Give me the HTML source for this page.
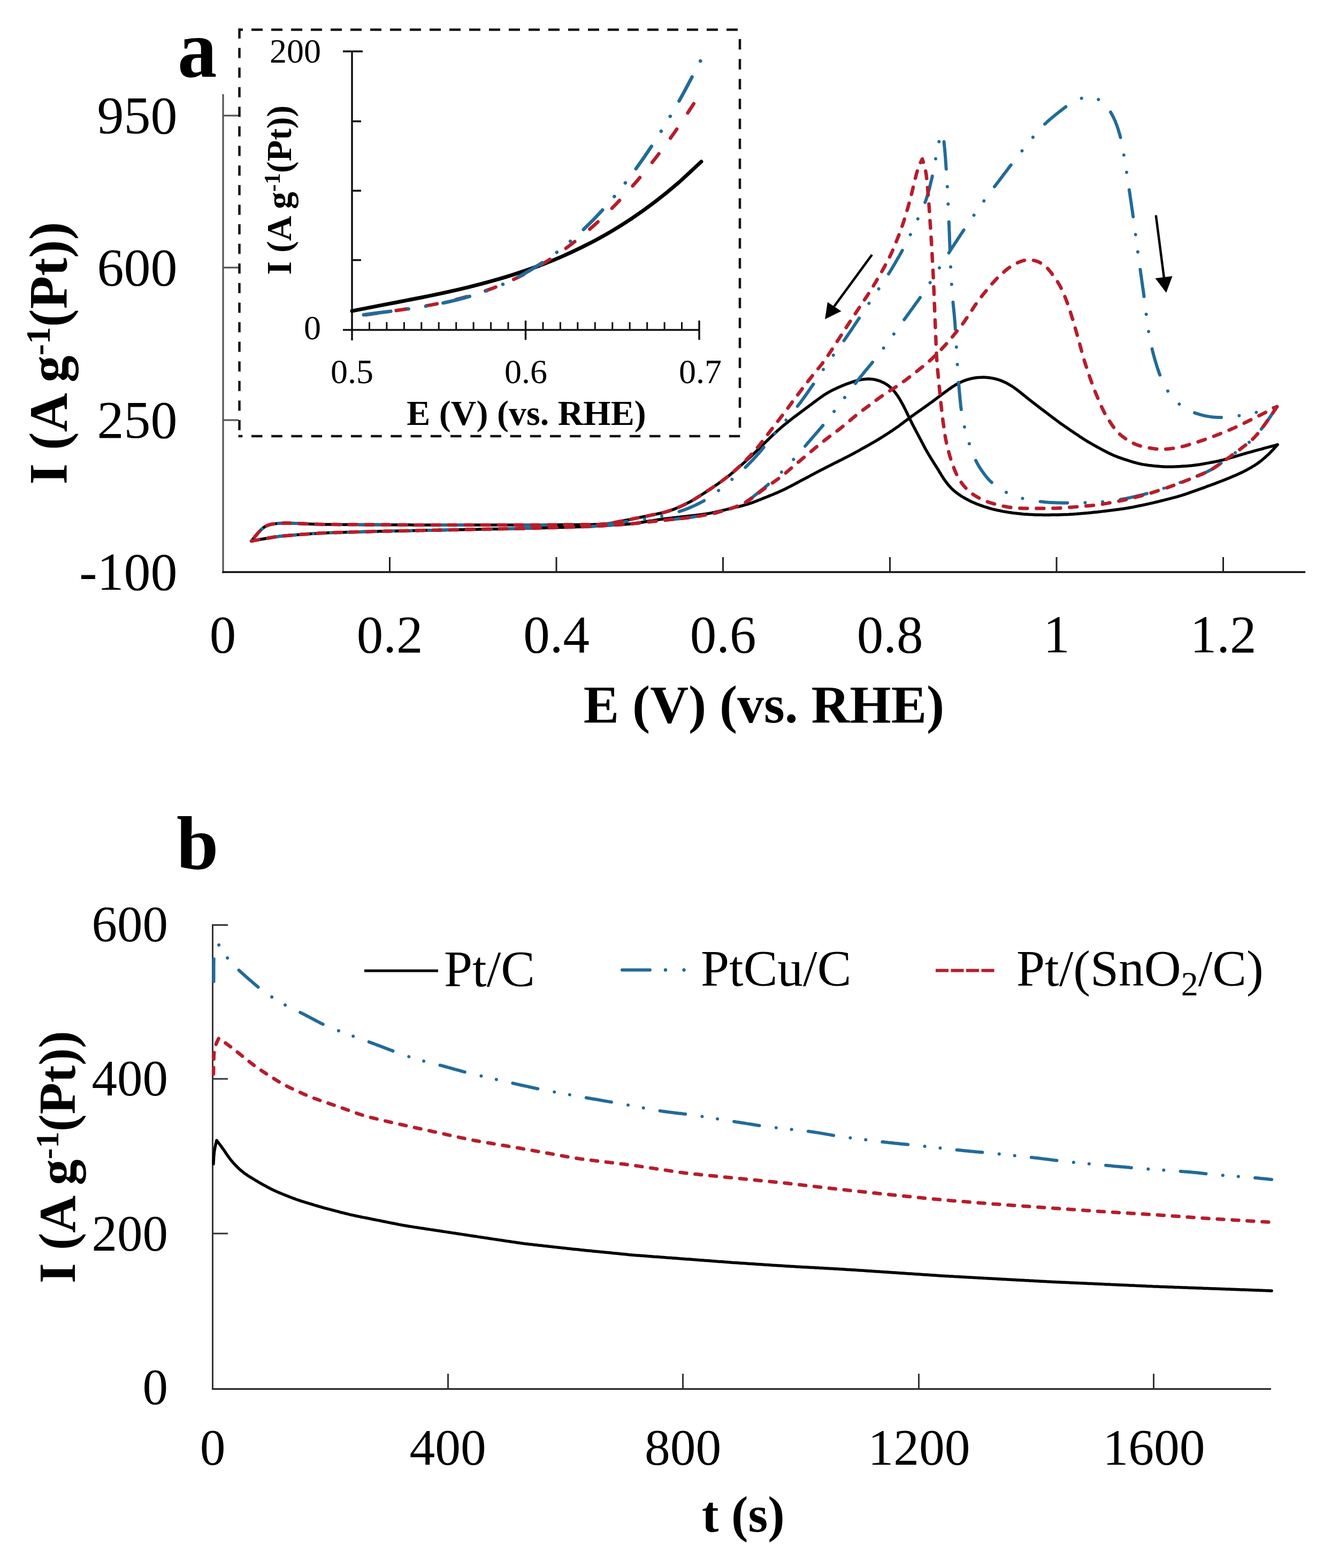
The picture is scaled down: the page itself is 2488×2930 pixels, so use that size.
<!DOCTYPE html><html><head><meta charset="utf-8"><title>Figure</title><style>html,body{margin:0;padding:0;background:#fff;}svg{display:block;}text{font-family:"Liberation Serif","Times New Roman",serif;fill:#000;}</style></head><body>
<svg width="2488" height="2930" viewBox="0 0 2488 2930">
<rect width="2488" height="2930" fill="#fff"/>
<text transform="translate(332 143) scale(1 1.055)" font-weight="bold" font-size="147">a</text>
<line x1="417" y1="176" x2="417" y2="1071" stroke="#555" stroke-width="3.2"/>
<line x1="415.5" y1="1069" x2="2440" y2="1069" stroke="#111" stroke-width="3.6"/>
<line x1="417" y1="216" x2="446" y2="216" stroke="#555" stroke-width="3.2"/>
<line x1="417" y1="500" x2="446" y2="500" stroke="#555" stroke-width="3.2"/>
<line x1="417" y1="785" x2="446" y2="785" stroke="#555" stroke-width="3.2"/>
<line x1="728.5" y1="1069" x2="728.5" y2="1041" stroke="#222" stroke-width="3"/>
<line x1="1040" y1="1069" x2="1040" y2="1041" stroke="#222" stroke-width="3"/>
<line x1="1351.5" y1="1069" x2="1351.5" y2="1041" stroke="#222" stroke-width="3"/>
<line x1="1663.5" y1="1069" x2="1663.5" y2="1041" stroke="#222" stroke-width="3"/>
<line x1="1975" y1="1069" x2="1975" y2="1041" stroke="#222" stroke-width="3"/>
<line x1="2286.5" y1="1069" x2="2286.5" y2="1041" stroke="#222" stroke-width="3"/>
<text x="331.5" y="249" font-size="100" text-anchor="end">950</text>
<text x="331.5" y="533" font-size="100" text-anchor="end">600</text>
<text x="331.5" y="818" font-size="100" text-anchor="end">250</text>
<text x="331.5" y="1102" font-size="100" text-anchor="end">-100</text>
<text x="416.5" y="1219" font-size="99" text-anchor="middle">0</text>
<text x="728.5" y="1219" font-size="99" text-anchor="middle">0.2</text>
<text x="1040" y="1219" font-size="99" text-anchor="middle">0.4</text>
<text x="1351.5" y="1219" font-size="99" text-anchor="middle">0.6</text>
<text x="1663.5" y="1219" font-size="99" text-anchor="middle">0.8</text>
<text x="1975" y="1219" font-size="99" text-anchor="middle">1</text>
<text x="2286.5" y="1219" font-size="99" text-anchor="middle">1.2</text>
<text x="1428" y="1350" font-size="99.5" font-weight="bold" text-anchor="middle">E (V) (vs. RHE)</text>
<text transform="translate(125 905.5) rotate(-90)" font-size="101" font-weight="bold">I (A g<tspan font-size="64" dy="-32">-1</tspan><tspan dy="32">(Pt))</tspan></text>
<g fill="none" stroke="#111" stroke-width="4.5">
<line x1="447.5" y1="55.5" x2="1385" y2="55.5" stroke-dasharray="21 16" stroke-dashoffset="-22.5"/>
<line x1="1383" y1="55.5" x2="1383" y2="815" stroke-dasharray="19.5 17.7" stroke-dashoffset="-17.5"/>
<line x1="1383.3" y1="815" x2="445.5" y2="815" stroke-dasharray="20.5 16.7"/>
<line x1="447.5" y1="53" x2="447.5" y2="817" stroke-dasharray="19 17.6"/>
</g>
<line x1="658" y1="95" x2="658" y2="636" stroke="#111" stroke-width="3.5"/>
<line x1="641" y1="96" x2="678" y2="96" stroke="#111" stroke-width="3.5"/>
<line x1="658" y1="226.7" x2="675" y2="226.7" stroke="#111" stroke-width="3.5"/>
<line x1="658" y1="356.4" x2="675" y2="356.4" stroke="#111" stroke-width="3.5"/>
<line x1="658" y1="486" x2="675" y2="486" stroke="#111" stroke-width="3.5"/>
<line x1="641" y1="616.5" x2="1308" y2="616.5" stroke="#111" stroke-width="3.5"/>
<line x1="690.5" y1="602" x2="690.5" y2="616.5" stroke="#111" stroke-width="3"/>
<line x1="722.9" y1="602" x2="722.9" y2="616.5" stroke="#111" stroke-width="3"/>
<line x1="755.4" y1="602" x2="755.4" y2="616.5" stroke="#111" stroke-width="3"/>
<line x1="787.8" y1="602" x2="787.8" y2="616.5" stroke="#111" stroke-width="3"/>
<line x1="820.2" y1="602" x2="820.2" y2="616.5" stroke="#111" stroke-width="3"/>
<line x1="852.7" y1="602" x2="852.7" y2="616.5" stroke="#111" stroke-width="3"/>
<line x1="885.1" y1="602" x2="885.1" y2="616.5" stroke="#111" stroke-width="3"/>
<line x1="917.6" y1="602" x2="917.6" y2="616.5" stroke="#111" stroke-width="3"/>
<line x1="950" y1="602" x2="950" y2="616.5" stroke="#111" stroke-width="3"/>
<line x1="982.5" y1="599" x2="982.5" y2="635" stroke="#111" stroke-width="3.5"/>
<line x1="1015" y1="602" x2="1015" y2="616.5" stroke="#111" stroke-width="3"/>
<line x1="1047.4" y1="602" x2="1047.4" y2="616.5" stroke="#111" stroke-width="3"/>
<line x1="1079.8" y1="602" x2="1079.8" y2="616.5" stroke="#111" stroke-width="3"/>
<line x1="1112.3" y1="602" x2="1112.3" y2="616.5" stroke="#111" stroke-width="3"/>
<line x1="1144.8" y1="602" x2="1144.8" y2="616.5" stroke="#111" stroke-width="3"/>
<line x1="1177.2" y1="602" x2="1177.2" y2="616.5" stroke="#111" stroke-width="3"/>
<line x1="1209.7" y1="602" x2="1209.7" y2="616.5" stroke="#111" stroke-width="3"/>
<line x1="1242.1" y1="602" x2="1242.1" y2="616.5" stroke="#111" stroke-width="3"/>
<line x1="1274.5" y1="602" x2="1274.5" y2="616.5" stroke="#111" stroke-width="3"/>
<line x1="1307" y1="599" x2="1307" y2="635" stroke="#111" stroke-width="3.5"/>
<text x="600" y="117" font-size="64" text-anchor="end">200</text>
<text x="600" y="634" font-size="64" text-anchor="end">0</text>
<text x="658" y="716" font-size="64" text-anchor="middle">0.5</text>
<text x="983" y="716" font-size="64" text-anchor="middle">0.6</text>
<text x="1309" y="716" font-size="64" text-anchor="middle">0.7</text>
<text x="984" y="794" font-size="66" font-weight="bold" text-anchor="middle">E (V) (vs. RHE)</text>
<text transform="translate(544 513.5) rotate(-90)" font-size="65" font-weight="bold">I (A g<tspan font-size="42" dy="-21">-1</tspan><tspan dy="21">(Pt))</tspan></text>
<path d="M658 581.1 C672.5 578.3 687 575.4 701.5 572.6 C716 569.8 730.6 567 745.1 564.2 C759.6 561.4 774.1 558.6 788.6 555.7 C803.1 552.8 817.6 549.8 832.1 546.6 C846.7 543.4 861.2 540.1 875.7 536.6 C890.2 533 904.7 529.3 919.2 525.2 C933.7 521.2 948.3 516.9 962.7 512.2 C977.3 507.5 991.8 502.5 1006.3 497.1 C1020.8 491.7 1035.4 485.9 1049.8 479.6 C1064.4 473.2 1078.9 466.5 1093.3 459.2 C1108 451.9 1122.5 444 1136.9 435.7 C1151.5 427.2 1166 418.1 1180.4 408.6 C1195.1 398.8 1209.6 388.4 1223.9 377.5 C1238.6 366.3 1253.1 354.5 1267.5 342.1 C1282.2 329.3 1296.5 315.3 1311 302" fill="none" stroke="#000" stroke-width="7" stroke-linejoin="round" stroke-linecap="round"/>
<path d="M658 592.3 C672.3 590.2 686.7 588 701 585.9 C715.3 583.8 729.7 581.9 744 579.8 C758.3 577.7 772.7 575.6 787 573.1 C801.4 570.7 815.7 568 830 564.9 C844.4 561.7 858.7 558.3 873 554.2 C887.4 550.1 901.8 545.6 916 540.4 C930.4 535.1 944.8 529.2 959 522.7 C973.5 515.9 987.8 508.6 1002 500.4 C1016.5 492.1 1030.9 483 1045 473.2 C1059.6 463.1 1073.9 452.1 1088 440.4 C1102.6 428.4 1116.9 415.5 1131 401.9 C1145.6 387.8 1159.9 372.8 1174 357.2 C1188.6 340.9 1202.9 323.8 1217 306.1 C1231.6 287.7 1245.9 268.5 1260 248.6 C1274.6 228 1288.7 205.9 1303 184.5" fill="none" stroke="#b71d2b" stroke-width="6.5" stroke-linejoin="round" stroke-linecap="round" stroke-dasharray="20.5 36.5" stroke-dashoffset="30.5"/>
<path d="M658 591.2 C672.5 589.2 687.1 587.2 701.6 585.2 C716.1 583.3 730.7 581.7 745.2 579.7 C759.7 577.7 774.3 575.8 788.8 573.4 C803.4 571 817.9 568.5 832.4 565.3 C847 562.2 861.6 558.7 876 554.4 C890.6 550.1 905.2 545.3 919.6 539.7 C934.3 534 948.8 527.6 963.2 520.3 C977.9 512.8 992.5 504.5 1006.8 495.3 C1021.6 485.8 1036.1 475.4 1050.4 464 C1065.2 452.2 1079.8 439.4 1094 425.7 C1108.9 411.4 1123.4 396.1 1137.6 379.8 C1152.5 362.8 1167 344.6 1181.2 325.6 C1196.1 305.7 1210.6 284.6 1224.8 262.7 C1239.7 239.7 1254.2 215.5 1268.4 190.5 C1283.3 164.3 1297.5 136.1 1312 108.8" fill="none" stroke="#216b99" stroke-width="6.5" stroke-linejoin="round" stroke-linecap="round" stroke-dasharray="51 33.5 0.1 32.5 0.1 33" stroke-dashoffset="-22"/>
<path d="M470 1011 473 1010.5 475.9 1009.9 478.9 1009.4 481.8 1008.9 484.8 1008.3 487.7 1007.8 490.7 1007.3 493.7 1006.7 496.6 1006.2 499.6 1005.7 502.5 1005.2 505.5 1004.7 508.5 1004.2 511.4 1003.7 514.4 1003.3 517.4 1002.8 520.3 1002.5 523.3 1002.1 526.3 1001.8 529.3 1001.5 532.3 1001.2 535.3 1000.9 538.2 1000.7 541.2 1000.4 544.2 1000.2 547.2 1000 550.2 999.7 553.2 999.5 556.2 999.3 559.2 999.1 562.2 998.8 565.2 998.6 568.2 998.4 571.2 998.2 574.2 997.9 577.2 997.7 580.2 997.5 583.2 997.3 586.2 997.1 589.2 996.9 592.2 996.7 595.2 996.5 598.2 996.3 601.2 996.2 604.2 996 607.2 995.9 610.2 995.8 613.2 995.6 616.2 995.5 619.2 995.4 622.2 995.3 625.2 995.2 628.2 995.2 631.2 995.1 634.2 995 637.2 994.9 640.2 994.8 643.2 994.7 646.2 994.6 649.2 994.5 652.2 994.4 655.2 994.3 658.2 994.3 661.2 994.2 664.2 994.1 667.2 994 670.2 993.9 673.2 993.8 676.2 993.7 679.2 993.6 682.2 993.5 685.2 993.4 688.2 993.4 691.2 993.3 694.2 993.2 697.2 993.1 700.3 993 703.3 993 706.3 992.9 709.3 992.8 712.3 992.8 715.3 992.7 718.3 992.6 721.3 992.6 724.3 992.5 727.3 992.5 730.3 992.4 733.3 992.3 736.3 992.3 739.3 992.2 742.3 992.2 745.3 992.1 748.3 992 751.3 992 754.3 991.9 757.3 991.9 760.3 991.8 763.3 991.7 766.3 991.7 769.3 991.6 772.3 991.6 775.3 991.5 778.3 991.4 781.3 991.4 784.4 991.3 787.4 991.3 790.4 991.2 793.4 991.1 796.4 991.1 799.4 991 802.4 991 805.4 990.9 808.4 990.8 811.4 990.8 814.4 990.7 817.4 990.7 820.4 990.6 823.4 990.5 826.4 990.5 829.4 990.4 832.4 990.4 835.4 990.3 838.4 990.2 841.4 990.2 844.4 990.1 847.4 990.1 850.4 990 853.4 989.9 856.4 989.9 859.4 989.8 862.4 989.8 865.4 989.7 868.5 989.6 871.5 989.6 874.5 989.5 877.5 989.5 880.5 989.4 883.5 989.3 886.5 989.3 889.5 989.2 892.5 989.2 895.5 989.1 898.5 989 901.5 989 904.5 988.9 907.5 988.9 910.5 988.8 913.5 988.7 916.5 988.7 919.5 988.6 922.5 988.5 925.5 988.5 928.5 988.4 931.5 988.4 934.5 988.3 937.5 988.2 940.5 988.2 943.5 988.1 946.5 988.1 949.6 988 952.6 987.9 955.6 987.9 958.6 987.8 961.6 987.8 964.6 987.7 967.6 987.6 970.6 987.6 973.6 987.5 976.6 987.5 979.6 987.4 982.6 987.3 985.6 987.3 988.6 987.2 991.6 987.2 994.6 987.1 997.6 987 1000.6 986.9 1003.6 986.9 1006.6 986.8 1009.6 986.7 1012.6 986.6 1015.6 986.5 1018.6 986.4 1021.6 986.3 1024.6 986.3 1027.6 986.2 1030.6 986.1 1033.6 986 1036.6 985.9 1039.6 985.8 1042.7 985.7 1045.7 985.6 1048.7 985.5 1051.7 985.5 1054.7 985.4 1057.7 985.3 1060.7 985.2 1063.7 985.1 1066.7 985 1069.7 984.9 1072.7 984.8 1075.7 984.7 1078.7 984.6 1081.7 984.5 1084.7 984.4 1087.7 984.3 1090.7 984.2 1093.7 984.1 1096.7 984 1099.7 983.9 1102.7 983.7 1105.7 983.6 1108.7 983.4 1111.7 983.2 1114.7 983.1 1117.7 982.9 1120.7 982.7 1123.7 982.5 1126.7 982.4 1129.7 982.2 1132.7 982 1135.7 981.8 1138.7 981.6 1141.7 981.4 1144.7 981.2 1147.7 981.1 1150.7 980.9 1153.7 980.7 1156.7 980.5 1159.7 980.3 1162.7 980.1 1165.7 979.9 1168.7 979.7 1171.7 979.4 1174.6 979.2 1177.6 978.9 1180.6 978.6 1183.6 978.2 1186.6 977.9 1189.5 977.5 1192.5 977 1195.5 976.6 1198.5 976.2 1201.4 975.7 1204.4 975.2 1207.4 974.8 1210.3 974.3 1213.3 973.8 1216.3 973.3 1219.2 972.9 1222.2 972.4 1225.2 971.9 1228.1 971.5 1231.1 971.1 1234.1 970.6 1237.1 970.2 1240 969.8 1243 969.4 1246 969 1249 968.7 1252 968.3 1254.9 968 1257.9 967.6 1260.9 967.3 1263.9 966.9 1266.9 966.6 1269.9 966.3 1272.8 965.9 1275.8 965.6 1278.8 965.2 1281.8 964.9 1284.8 964.6 1287.8 964.2 1290.8 963.9 1293.7 963.6 1296.7 963.2 1299.7 962.9 1302.7 962.5 1305.7 962.2 1308.7 961.8 1311.6 961.4 1314.6 961 1317.6 960.6 1320.5 960.1 1323.5 959.7 1326.5 959.1 1329.4 958.6 1332.3 958 1335.3 957.4 1338.2 956.7 1341.1 956.1 1344.1 955.4 1347 954.7 1349.9 954 1352.8 953.3 1355.8 952.6 1358.7 951.9 1361.6 951.2 1364.5 950.5 1367.4 949.8 1370.4 949.1 1373.3 948.4 1376.2 947.7 1379.1 947 1382 946.3 1384.9 945.5 1387.8 944.8 1390.7 944 1393.6 943.2 1396.5 942.3 1399.4 941.5 1402.2 940.5 1405.1 939.6 1407.9 938.6 1410.7 937.5 1413.5 936.5 1416.3 935.4 1419.1 934.3 1421.9 933.2 1424.7 932 1427.5 930.9 1430.2 929.8 1433 928.7 1435.8 927.6 1438.6 926.4 1441.4 925.3 1444.2 924.2 1446.9 923 1449.7 921.9 1452.5 920.7 1455.2 919.5 1458 918.3 1460.7 917 1463.4 915.8 1466.1 914.5 1468.8 913.2 1471.5 911.8 1474.2 910.4 1476.8 909.1 1479.5 907.7 1482.2 906.3 1484.8 904.9 1487.5 903.5 1490.1 902 1492.8 900.6 1495.4 899.2 1498.1 897.8 1500.7 896.4 1503.4 895 1506 893.6 1508.7 892.2 1511.3 890.8 1514 889.4 1516.6 887.9 1519.3 886.5 1522 885.1 1524.6 883.7 1527.3 882.3 1529.9 880.9 1532.6 879.5 1535.2 878.1 1537.9 876.7 1540.6 875.4 1543.2 874 1545.9 872.6 1548.6 871.2 1551.3 869.9 1554 868.5 1556.6 867.2 1559.3 865.8 1562 864.5 1564.7 863.2 1567.4 861.8 1570.1 860.5 1572.8 859.1 1575.4 857.8 1578.1 856.4 1580.8 855 1583.5 853.7 1586.1 852.3 1588.8 850.9 1591.5 849.5 1594.1 848.1 1596.8 846.7 1599.4 845.2 1602 843.8 1604.7 842.3 1607.3 840.9 1609.9 839.4 1612.5 837.9 1615.1 836.5 1617.8 835 1620.4 833.5 1623 832.1 1625.6 830.6 1628.2 829.1 1630.8 827.6 1633.4 826.1 1636 824.6 1638.6 823.1 1641.2 821.5 1643.8 820 1646.3 818.4 1648.9 816.8 1651.4 815.2 1653.9 813.6 1656.5 811.9 1659 810.3 1661.5 808.7 1664 807 1666.5 805.4 1669 803.7 1671.5 802 1674 800.3 1676.4 798.6 1678.9 796.9 1681.3 795.1 1683.7 793.3 1686.1 791.5 1688.5 789.7 1690.9 787.9 1693.3 786.1 1695.7 784.3 1698.1 782.5 1700.5 780.7 1702.9 778.9 1705.4 777.1 1707.8 775.4 1710.2 773.6 1712.7 771.9 1715.1 770.1 1717.6 768.4 1720 766.7 1722.5 764.9 1725 763.2 1727.4 761.5 1729.9 759.8 1732.3 758 1734.8 756.3 1737.2 754.5 1739.6 752.8 1742.1 751 1744.5 749.2 1746.9 747.4 1749.3 745.6 1751.7 743.8 1754.1 742 1756.5 740.2 1758.9 738.4 1761.3 736.6 1763.7 734.8 1766.1 733 1768.6 731.3 1771 729.5 1773.4 727.8 1775.9 726 1778.3 724.3 1780.8 722.6 1783.3 721 1785.9 719.4 1788.4 717.9 1791 716.5 1793.7 715.1 1796.4 713.9 1799.1 712.7 1801.8 711.6 1804.6 710.6 1807.5 709.6 1810.3 708.8 1813.2 708 1816.1 707.3 1819 706.7 1821.9 706.2 1824.9 705.8 1827.8 705.5 1830.8 705.3 1833.8 705.2 1836.7 705.1 1839.7 705.1 1842.7 705.3 1845.7 705.5 1848.6 705.8 1851.6 706.2 1854.5 706.6 1857.4 707.2 1860.3 707.9 1863.2 708.6 1866 709.5 1868.8 710.4 1871.6 711.4 1874.4 712.6 1877.1 713.8 1879.8 715 1882.5 716.4 1885.1 717.8 1887.7 719.3 1890.2 720.8 1892.7 722.4 1895.2 724.1 1897.6 725.9 1900 727.6 1902.4 729.4 1904.8 731.3 1907.1 733.1 1909.5 735 1911.8 736.9 1914.2 738.8 1916.5 740.7 1918.8 742.5 1921.2 744.4 1923.5 746.3 1925.9 748.2 1928.3 750 1930.6 751.9 1933 753.7 1935.4 755.5 1937.8 757.4 1940.1 759.2 1942.5 761 1944.9 762.8 1947.3 764.7 1949.7 766.5 1952.1 768.3 1954.5 770.1 1956.9 771.9 1959.3 773.7 1961.7 775.6 1964.1 777.4 1966.5 779.2 1968.9 781 1971.3 782.8 1973.7 784.6 1976.1 786.4 1978.5 788.2 1980.9 789.9 1983.4 791.7 1985.8 793.4 1988.3 795.1 1990.7 796.9 1993.2 798.6 1995.7 800.3 1998.2 802 2000.6 803.7 2003.1 805.4 2005.6 807 2008.1 808.7 2010.6 810.4 2013.1 812.1 2015.6 813.8 2018 815.5 2020.5 817.1 2023.1 818.8 2025.6 820.4 2028.1 822 2030.7 823.6 2033.2 825.2 2035.8 826.7 2038.4 828.2 2041 829.7 2043.6 831.2 2046.2 832.6 2048.9 834.1 2051.5 835.5 2054.1 836.9 2056.8 838.4 2059.4 839.8 2062.1 841.2 2064.7 842.6 2067.4 844 2070.1 845.4 2072.7 846.7 2075.4 848 2078.1 849.3 2080.9 850.5 2083.6 851.7 2086.4 852.8 2089.2 853.9 2092 854.9 2094.8 855.9 2097.7 856.9 2100.5 857.9 2103.4 858.8 2106.2 859.7 2109.1 860.6 2111.9 861.5 2114.8 862.4 2117.7 863.3 2120.6 864.1 2123.4 864.9 2126.3 865.7 2129.2 866.4 2132.2 867 2135.1 867.6 2138 868.1 2141 868.6 2144 869 2146.9 869.4 2149.9 869.7 2152.9 870 2155.9 870.4 2158.9 870.7 2161.8 870.9 2164.8 871.2 2167.8 871.5 2170.8 871.7 2173.8 871.9 2176.8 872.1 2179.8 872.2 2182.8 872.3 2185.8 872.3 2188.8 872.3 2191.8 872.2 2194.8 872.1 2197.8 872 2200.8 871.8 2203.8 871.7 2206.8 871.5 2209.8 871.3 2212.8 871.1 2215.8 870.9 2218.7 870.7 2221.7 870.5 2224.7 870.2 2227.7 869.9 2230.7 869.6 2233.7 869.2 2236.6 868.8 2239.6 868.4 2242.6 868 2245.5 867.5 2248.5 867 2251.5 866.5 2254.4 865.9 2257.4 865.4 2260.3 864.9 2263.3 864.3 2266.2 863.8 2269.2 863.2 2272.1 862.6 2275.1 862 2278 861.4 2280.9 860.7 2283.8 860 2286.7 859.3 2289.6 858.5 2292.5 857.7 2295.4 856.9 2298.3 856.1 2301.2 855.2 2304.1 854.4 2307 853.5 2309.8 852.6 2312.7 851.8 2315.6 850.9 2318.5 850.1 2321.4 849.2 2324.2 848.4 2327.1 847.5 2330 846.7 2332.9 845.9 2335.8 845.1 2338.7 844.3 2341.6 843.5 2344.5 842.7 2347.4 841.9 2350.3 841.1 2353.2 840.3 2356.1 839.6 2359 838.8 2361.9 838 2364.8 837.2 2367.7 836.4 2370.6 835.7 2373.5 834.9 2376.4 834.1 2379.3 833.3 2382.2 832.6 2385.1 831.8 2388 831" fill="none" stroke="#000" stroke-width="5.5" stroke-linejoin="round" stroke-linecap="round"/>
<path d="M2388 831 2386 833.2 2384 835.5 2382 837.7 2380 839.9 2377.9 842.1 2375.8 844.2 2373.7 846.4 2371.6 848.5 2369.4 850.5 2367.2 852.5 2365 854.6 2362.7 856.5 2360.4 858.5 2358.1 860.4 2355.8 862.2 2353.4 864 2351 865.8 2348.5 867.5 2346 869.1 2343.5 870.7 2340.9 872.2 2338.3 873.8 2335.7 875.2 2333.1 876.7 2330.5 878.1 2327.8 879.5 2325.1 880.9 2322.5 882.2 2319.8 883.5 2317.1 884.8 2314.3 886 2311.6 887.3 2308.8 888.5 2306.1 889.6 2303.3 890.8 2300.5 892 2297.8 893.1 2295 894.2 2292.2 895.4 2289.4 896.5 2286.6 897.6 2283.8 898.7 2281 899.8 2278.2 900.9 2275.4 901.9 2272.6 903 2269.8 904.1 2267 905.1 2264.2 906.1 2261.3 907.2 2258.5 908.2 2255.7 909.2 2252.9 910.3 2250.1 911.3 2247.2 912.3 2244.4 913.4 2241.6 914.4 2238.8 915.4 2235.9 916.4 2233.1 917.4 2230.3 918.4 2227.4 919.4 2224.6 920.4 2221.8 921.4 2218.9 922.4 2216.1 923.3 2213.2 924.3 2210.4 925.2 2207.5 926.1 2204.6 926.9 2201.8 927.8 2198.9 928.6 2196 929.4 2193.1 930.2 2190.2 930.9 2187.3 931.7 2184.4 932.4 2181.4 933.1 2178.5 933.9 2175.6 934.6 2172.7 935.3 2169.8 936 2166.9 936.8 2164 937.5 2161 938.2 2158.1 938.9 2155.2 939.6 2152.3 940.3 2149.3 940.9 2146.4 941.6 2143.5 942.2 2140.5 942.9 2137.6 943.5 2134.7 944.1 2131.7 944.7 2128.8 945.3 2125.8 945.9 2122.9 946.5 2120 947.1 2117 947.7 2114.1 948.2 2111.1 948.7 2108.1 949.3 2105.2 949.8 2102.2 950.2 2099.3 950.7 2096.3 951.1 2093.3 951.5 2090.3 951.9 2087.4 952.3 2084.4 952.7 2081.4 953.1 2078.4 953.4 2075.4 953.8 2072.5 954.2 2069.5 954.6 2066.5 954.9 2063.5 955.3 2060.5 955.6 2057.6 956 2054.6 956.3 2051.6 956.7 2048.6 957 2045.6 957.3 2042.6 957.6 2039.6 957.9 2036.6 958.2 2033.7 958.5 2030.7 958.7 2027.7 959 2024.7 959.3 2021.7 959.5 2018.7 959.8 2015.7 960 2012.7 960.3 2009.7 960.5 2006.7 960.7 2003.7 960.9 2000.7 961.1 1997.7 961.3 1994.7 961.4 1991.7 961.5 1988.7 961.6 1985.7 961.7 1982.7 961.8 1979.7 961.9 1976.7 962 1973.7 962 1970.7 962.1 1967.7 962.1 1964.7 962.1 1961.7 962.2 1958.7 962.2 1955.7 962.2 1952.7 962.2 1949.7 962.2 1946.7 962.1 1943.7 962.1 1940.7 962 1937.7 961.9 1934.7 961.9 1931.7 961.7 1928.7 961.6 1925.7 961.5 1922.7 961.3 1919.7 961.1 1916.7 960.9 1913.7 960.7 1910.7 960.4 1907.7 960.1 1904.8 959.8 1901.8 959.5 1898.8 959.1 1895.8 958.8 1892.8 958.4 1889.9 958 1886.9 957.6 1883.9 957.1 1881 956.6 1878 956.1 1875.1 955.6 1872.1 955 1869.2 954.4 1866.2 953.8 1863.3 953.2 1860.4 952.5 1857.5 951.8 1854.6 951.1 1851.7 950.3 1848.8 949.5 1845.9 948.6 1843.1 947.7 1840.2 946.8 1837.4 945.8 1834.5 944.8 1831.7 943.8 1828.9 942.8 1826.1 941.7 1823.3 940.6 1820.6 939.4 1817.8 938.2 1815.1 936.9 1812.4 935.7 1809.7 934.3 1807.1 932.9 1804.5 931.5 1801.8 930 1799.3 928.5 1796.7 926.9 1794.2 925.3 1791.8 923.6 1789.4 921.8 1787 920 1784.7 918.1 1782.5 916.2 1780.3 914.2 1778.2 912.1 1776.1 909.9 1774.1 907.7 1772.2 905.4 1770.3 903.1 1768.5 900.8 1766.8 898.3 1765 895.9 1763.4 893.4 1761.7 890.9 1760.1 888.4 1758.6 885.8 1757 883.2 1755.4 880.7 1753.9 878.1 1752.3 875.6 1750.7 873 1749.1 870.5 1747.5 867.9 1745.9 865.4 1744.3 862.8 1742.7 860.3 1741.1 857.8 1739.5 855.2 1738 852.7 1736.4 850.1 1734.9 847.5 1733.4 844.9 1731.9 842.3 1730.4 839.7 1729 837.1 1727.6 834.4 1726.2 831.8 1724.8 829.1 1723.4 826.4 1722 823.8 1720.6 821.1 1719.2 818.5 1717.8 815.8 1716.4 813.2 1715 810.5 1713.6 807.9 1712.2 805.2 1710.8 802.5 1709.4 799.9 1708 797.2 1706.6 794.5 1705.2 791.9 1703.9 789.2 1702.6 786.5 1701.2 783.8 1699.9 781.1 1698.6 778.4 1697.3 775.7 1696 773 1694.7 770.3 1693.4 767.6 1692.1 764.9 1690.7 762.2 1689.4 759.5 1688 756.9 1686.5 754.2 1685.1 751.6 1683.6 749 1682.1 746.4 1680.6 743.9 1679 741.4 1677.3 738.9 1675.6 736.5 1673.8 734.1 1671.9 731.8 1670 729.5 1668 727.3 1665.9 725.3 1663.8 723.3 1661.5 721.4 1659.2 719.6 1656.8 718 1654.3 716.5 1651.7 715.1 1649.1 713.9 1646.4 712.7 1643.6 711.7 1640.8 710.8 1638 710 1635.2 709.4 1632.3 708.8 1629.4 708.4 1626.5 708.2 1623.6 708.1 1620.7 708.2 1617.7 708.4 1614.8 708.7 1611.9 709.1 1609 709.6 1606.1 710.2 1603.2 710.9 1600.3 711.7 1597.4 712.5 1594.5 713.4 1591.7 714.3 1588.9 715.3 1586 716.3 1583.2 717.3 1580.4 718.4 1577.6 719.5 1574.9 720.6 1572.1 721.8 1569.3 723 1566.6 724.2 1563.8 725.4 1561.1 726.7 1558.4 728 1555.7 729.3 1553.1 730.7 1550.4 732.1 1547.8 733.6 1545.3 735.1 1542.7 736.7 1540.2 738.3 1537.7 740 1535.3 741.7 1532.8 743.4 1530.4 745.2 1528 746.9 1525.6 748.7 1523.2 750.5 1520.8 752.3 1518.4 754.1 1516 755.9 1513.6 757.8 1511.1 759.6 1508.7 761.3 1506.3 763.1 1503.9 764.9 1501.5 766.7 1499.1 768.5 1496.7 770.3 1494.3 772.1 1491.8 773.9 1489.4 775.7 1487 777.5 1484.6 779.3 1482.3 781.1 1479.9 782.9 1477.5 784.8 1475.2 786.6 1472.8 788.5 1470.5 790.4 1468.1 792.3 1465.8 794.2 1463.5 796.1 1461.2 798 1458.9 800 1456.7 802 1454.4 803.9 1452.2 806 1450 808 1447.8 810 1445.6 812.1 1443.4 814.1 1441.2 816.2 1439.1 818.3 1436.9 820.4 1434.8 822.5 1432.6 824.6 1430.5 826.7 1428.3 828.8 1426.2 830.9 1424 833 1421.9 835.1 1419.8 837.2 1417.6 839.3 1415.5 841.4 1413.4 843.6 1411.2 845.7 1409.1 847.7 1406.9 849.8 1404.7 851.9 1402.5 853.9 1400.3 856 1398.1 858 1395.9 860 1393.7 862 1391.4 864 1389.2 866 1386.9 868 1384.7 870 1382.4 872 1380.2 874 1377.9 876 1375.6 877.9 1373.4 879.9 1371.1 881.9 1368.8 883.8 1366.5 885.7 1364.2 887.6 1361.8 889.5 1359.5 891.3 1357.1 893.1 1354.7 894.9 1352.3 896.7 1349.8 898.5 1347.4 900.2 1344.9 902 1342.5 903.7 1340 905.4 1337.6 907.1 1335.1 908.8 1332.6 910.6 1330.1 912.2 1327.7 913.9 1325.2 915.6 1322.7 917.3 1320.2 918.9 1317.6 920.6 1315.1 922.2 1312.6 923.8 1310.1 925.4 1307.5 927 1305 928.6 1302.4 930.2 1299.9 931.8 1297.3 933.3 1294.7 934.8 1292.1 936.3 1289.5 937.8 1286.9 939.2 1284.2 940.6 1281.5 941.9 1278.8 943.3 1276.1 944.5 1273.4 945.8 1270.7 947 1267.9 948.2 1265.1 949.3 1262.4 950.5 1259.6 951.6 1256.8 952.6 1254 953.6 1251.1 954.6 1248.3 955.5 1245.4 956.3 1242.5 957.1 1239.6 957.8 1236.7 958.5 1233.8 959.2 1230.9 959.8 1227.9 960.4 1225 961.1 1222.1 961.7 1219.1 962.3 1216.2 962.9 1213.2 963.5 1210.3 964.1 1207.3 964.7 1204.4 965.3 1201.5 965.8 1198.5 966.4 1195.6 967 1192.6 967.6 1189.7 968.2 1186.7 968.8 1183.8 969.4 1180.8 970 1177.9 970.6 1174.9 971.2 1172 971.8 1169.1 972.3 1166.1 972.9 1163.2 973.5 1160.2 974.1 1157.3 974.6 1154.3 975.2 1151.4 975.8 1148.4 976.3 1145.5 976.9 1142.5 977.4 1139.6 977.9 1136.6 978.3 1133.6 978.7 1130.7 979 1127.7 979.3 1124.7 979.6 1121.7 979.7 1118.7 979.9 1115.7 980 1112.7 980.1 1109.7 980.1 1106.7 980.2 1103.7 980.2 1100.7 980.2 1097.7 980.2 1094.7 980.3 1091.7 980.3 1088.7 980.3 1085.7 980.3 1082.7 980.4 1079.7 980.4 1076.7 980.4 1073.7 980.4 1070.7 980.5 1067.7 980.5 1064.7 980.5 1061.7 980.5 1058.7 980.5 1055.7 980.6 1052.7 980.6 1049.7 980.6 1046.7 980.6 1043.7 980.7 1040.7 980.7 1037.7 980.7 1034.6 980.7 1031.6 980.8 1028.6 980.8 1025.6 980.8 1022.6 980.8 1019.6 980.8 1016.6 980.9 1013.6 980.9 1010.6 980.9 1007.6 980.9 1004.6 980.9 1001.6 981 998.6 981 995.6 981 992.6 981 989.6 981 986.6 981 983.6 981 980.6 981 977.6 981 974.6 981 971.6 981 968.6 981 965.6 981 962.6 981 959.6 981 956.6 981 953.6 981 950.6 981 947.5 981 944.5 981 941.5 981 938.5 981 935.5 981 932.5 981 929.5 981 926.5 981 923.5 981 920.5 981 917.5 981 914.5 981 911.5 981 908.5 981 905.5 981 902.5 981 899.5 981 896.5 981 893.5 981 890.5 981 887.5 981 884.5 981 881.5 981 878.5 981 875.5 981 872.5 981 869.5 981 866.5 981 863.5 981 860.4 981 857.4 981 854.4 981 851.4 981 848.4 981 845.4 981 842.4 981 839.4 981 836.4 981 833.4 981 830.4 981 827.4 981 824.4 981 821.4 981 818.4 981 815.4 981 812.4 981 809.4 981 806.4 981 803.4 981 800.4 981 797.4 981 794.4 981 791.4 980.9 788.4 980.9 785.4 980.9 782.4 980.9 779.4 980.9 776.4 980.9 773.3 980.9 770.3 980.9 767.3 980.8 764.3 980.8 761.3 980.8 758.3 980.8 755.3 980.8 752.3 980.8 749.3 980.7 746.3 980.7 743.3 980.7 740.3 980.7 737.3 980.7 734.3 980.7 731.3 980.7 728.3 980.6 725.3 980.6 722.3 980.6 719.3 980.6 716.3 980.6 713.3 980.6 710.3 980.6 707.3 980.5 704.3 980.5 701.3 980.5 698.3 980.5 695.3 980.5 692.3 980.5 689.3 980.4 686.2 980.4 683.2 980.4 680.2 980.4 677.2 980.4 674.2 980.4 671.2 980.4 668.2 980.3 665.2 980.3 662.2 980.3 659.2 980.3 656.2 980.3 653.2 980.3 650.2 980.3 647.2 980.2 644.2 980.2 641.2 980.2 638.2 980.2 635.2 980.2 632.2 980.2 629.2 980.1 626.2 980.1 623.2 980.1 620.2 980.1 617.2 980.1 614.2 980 611.2 980 608.2 980 605.2 979.9 602.2 979.9 599.2 979.8 596.2 979.7 593.2 979.6 590.1 979.5 587.1 979.4 584.1 979.3 581.1 979.2 578.1 979.1 575.1 978.9 572.1 978.8 569.1 978.7 566.1 978.5 563.1 978.4 560.1 978.3 557.1 978.2 554.1 978 551.1 977.9 548.1 977.8 545.1 977.7 542.1 977.6 539.1 977.6 536.1 977.6 533.1 977.6 530.1 977.6 527.2 977.7 524.2 977.8 521.2 978 518.2 978.2 515.3 978.5 512.3 978.8 509.4 979.3 506.6 979.8 503.8 980.5 501.2 981.4 498.6 982.4 496.1 983.7 493.8 985.1 491.5 986.8 489.4 988.6 487.3 990.6 485.3 992.7 483.3 994.8 481.4 997.1 479.5 999.4 477.6 1001.7 475.7 1004 473.8 1006.3 471.9 1008.7 470 1011" fill="none" stroke="#000" stroke-width="5.5" stroke-linejoin="round" stroke-linecap="round"/>
<path d="M470 1011 473 1010.5 475.9 1009.9 478.9 1009.4 481.8 1008.9 484.8 1008.3 487.7 1007.8 490.7 1007.3 493.6 1006.7 496.6 1006.2 499.6 1005.7 502.5 1005.2 505.5 1004.7 508.4 1004.2 511.4 1003.7 514.4 1003.3 517.3 1002.8 520.3 1002.5 523.3 1002.1 526.3 1001.8 529.3 1001.5 532.2 1001.2 535.2 1000.9 538.2 1000.7 541.2 1000.4 544.2 1000.2 547.2 1000 550.2 999.7 553.2 999.5 556.2 999.3 559.2 999.1 562.2 998.8 565.2 998.6 568.2 998.4 571.2 998.2 574.2 997.9 577.1 997.7 580.1 997.5 583.1 997.3 586.1 997.1 589.1 996.9 592.1 996.7 595.1 996.5 598.1 996.3 601.1 996.2 604.1 996 607.1 995.9 610.1 995.8 613.1 995.6 616.1 995.5 619.1 995.4 622.1 995.3 625.1 995.2 628.1 995.2 631.1 995.1 634.1 995 637.1 994.9 640.1 994.8 643.1 994.7 646.1 994.6 649.1 994.5 652.1 994.4 655.1 994.3 658.1 994.3 661.1 994.2 664.1 994.1 667.1 994 670.1 993.9 673.1 993.8 676.1 993.7 679.1 993.6 682.2 993.5 685.2 993.5 688.2 993.4 691.2 993.3 694.2 993.2 697.2 993.1 700.2 993 703.2 993 706.2 992.9 709.2 992.8 712.2 992.8 715.2 992.7 718.2 992.6 721.2 992.6 724.2 992.5 727.2 992.5 730.2 992.4 733.2 992.3 736.2 992.3 739.2 992.2 742.2 992.2 745.2 992.1 748.2 992 751.2 992 754.2 991.9 757.2 991.9 760.2 991.8 763.2 991.7 766.2 991.7 769.2 991.6 772.2 991.6 775.2 991.5 778.2 991.4 781.2 991.4 784.2 991.3 787.2 991.3 790.2 991.2 793.2 991.1 796.2 991.1 799.2 991 802.2 991 805.2 990.9 808.2 990.8 811.3 990.8 814.3 990.7 817.3 990.7 820.3 990.6 823.3 990.5 826.3 990.5 829.3 990.4 832.3 990.4 835.3 990.3 838.3 990.2 841.3 990.2 844.3 990.1 847.3 990.1 850.3 990 853.3 989.9 856.3 989.9 859.3 989.8 862.3 989.8 865.3 989.7 868.3 989.6 871.3 989.6 874.3 989.5 877.3 989.5 880.3 989.4 883.3 989.3 886.3 989.3 889.3 989.2 892.3 989.2 895.3 989.1 898.3 989 901.3 989 904.3 988.9 907.3 988.9 910.3 988.8 913.3 988.7 916.3 988.7 919.3 988.6 922.3 988.6 925.3 988.5 928.3 988.4 931.3 988.4 934.4 988.3 937.4 988.3 940.4 988.2 943.4 988.1 946.4 988.1 949.4 988 952.4 988 955.4 987.9 958.4 987.8 961.4 987.8 964.4 987.7 967.4 987.7 970.4 987.6 973.4 987.5 976.4 987.5 979.4 987.4 982.4 987.3 985.4 987.3 988.4 987.2 991.4 987.2 994.4 987.1 997.4 987 1000.4 986.9 1003.4 986.9 1006.4 986.8 1009.4 986.7 1012.4 986.6 1015.4 986.5 1018.4 986.4 1021.4 986.4 1024.4 986.3 1027.4 986.2 1030.4 986.1 1033.4 986 1036.4 985.9 1039.4 985.8 1042.4 985.7 1045.4 985.6 1048.4 985.5 1051.4 985.5 1054.4 985.4 1057.4 985.3 1060.4 985.2 1063.4 985.1 1066.4 985 1069.4 984.9 1072.4 984.8 1075.4 984.7 1078.4 984.6 1081.5 984.5 1084.5 984.4 1087.5 984.3 1090.5 984.2 1093.5 984.1 1096.5 984 1099.5 983.9 1102.5 983.7 1105.5 983.6 1108.5 983.4 1111.5 983.3 1114.4 983.1 1117.4 982.9 1120.4 982.7 1123.4 982.5 1126.4 982.4 1129.4 982.2 1132.4 982 1135.4 981.8 1138.4 981.6 1141.4 981.4 1144.4 981.3 1147.4 981.1 1150.4 980.9 1153.4 980.7 1156.4 980.5 1159.4 980.3 1162.4 980.1 1165.4 979.9 1168.4 979.7 1171.4 979.5 1174.4 979.3 1177.4 979 1180.4 978.8 1183.4 978.5 1186.3 978.2 1189.3 977.9 1192.3 977.6 1195.3 977.3 1198.3 976.9 1201.3 976.6 1204.3 976.3 1207.2 975.9 1210.2 975.6 1213.2 975.2 1216.2 974.9 1219.2 974.5 1222.2 974.2 1225.1 973.8 1228.1 973.5 1231.1 973.2 1234.1 972.9 1237.1 972.6 1240.1 972.2 1243.1 971.9 1246 971.6 1249 971.3 1252 971 1255 970.7 1258 970.4 1261 970.2 1264 969.8 1267 969.5 1269.9 969.2 1272.9 968.9 1275.9 968.6 1278.9 968.2 1281.9 967.9 1284.8 967.5 1287.8 967.1 1290.8 966.7 1293.8 966.2 1296.7 965.8 1299.7 965.4 1302.7 964.9 1305.6 964.4 1308.6 964 1311.6 963.5 1314.5 963 1317.5 962.5 1320.5 962 1323.4 961.5 1326.4 960.9 1329.3 960.3 1332.2 959.7 1335.1 959 1338.1 958.3 1341 957.6 1343.8 956.8 1346.7 956 1349.6 955.2 1352.5 954.3 1355.4 953.5 1358.2 952.6 1361.1 951.7 1364 950.8 1366.8 949.9 1369.6 948.9 1372.5 947.9 1375.3 946.8 1378 945.7 1380.8 944.6 1383.5 943.3 1386.2 942 1388.8 940.6 1391.4 939.2 1394 937.7 1396.6 936.1 1399.1 934.5 1401.5 932.8 1404 931.1 1406.4 929.3 1408.7 927.5 1411.1 925.6 1413.4 923.8 1415.8 921.9 1418.1 920 1420.5 918.1 1422.8 916.2 1425.1 914.4 1427.5 912.5 1429.8 910.6 1432.1 908.6 1434.4 906.7 1436.7 904.7 1438.9 902.8 1441.2 900.8 1443.4 898.8 1445.6 896.7 1447.8 894.7 1450 892.7 1452.2 890.6 1454.3 888.5 1456.5 886.4 1458.7 884.4 1460.8 882.3 1463 880.1 1465.1 878 1467.2 875.9 1469.3 873.7 1471.3 871.6 1473.4 869.4 1475.4 867.2 1477.5 865 1479.5 862.7 1481.5 860.5 1483.5 858.3 1485.5 856 1487.5 853.8 1489.5 851.5 1491.4 849.3 1493.4 847 1495.4 844.7 1497.4 842.5 1499.3 840.2 1501.3 837.9 1503.2 835.7 1505.2 833.4 1507.2 831.1 1509.1 828.8 1511.1 826.6 1513.1 824.3 1515 822 1517 819.7 1519 817.5 1520.9 815.2 1522.9 812.9 1524.8 810.7 1526.8 808.4 1528.8 806.1 1530.7 803.8 1532.7 801.6 1534.6 799.3 1536.6 797 1538.5 794.7 1540.5 792.4 1542.4 790.1 1544.3 787.8 1546.2 785.5 1548.1 783.1 1550 780.8 1551.8 778.4 1553.7 776.1 1555.5 773.7 1557.3 771.3 1559.1 768.9 1561 766.5 1562.8 764.1 1564.6 761.7 1566.4 759.3 1568.2 757 1570 754.6 1571.8 752.2 1573.7 749.8 1575.5 747.4 1577.3 745 1579.1 742.6 1580.9 740.2 1582.7 737.8 1584.5 735.4 1586.3 733 1588.1 730.6 1590 728.2 1591.8 725.8 1593.6 723.4 1595.4 721 1597.2 718.6 1599.1 716.3 1600.9 713.9 1602.7 711.5 1604.6 709.2 1606.4 706.8 1608.3 704.5 1610.2 702.1 1612.1 699.8 1614 697.5 1615.9 695.1 1617.8 692.8 1619.7 690.5 1621.7 688.2 1623.6 685.9 1625.5 683.6 1627.4 681.3 1629.3 679 1631.2 676.7 1633.1 674.3 1635 672 1636.9 669.7 1638.8 667.3 1640.6 665 1642.5 662.6 1644.3 660.2 1646.1 657.8 1647.9 655.4 1649.7 653 1651.5 650.6 1653.3 648.2 1655 645.7 1656.8 643.3 1658.6 640.9 1660.4 638.5 1662.1 636 1663.9 633.6 1665.7 631.2 1667.4 628.7 1669.2 626.3 1671 623.9 1672.7 621.5 1674.5 619 1676.3 616.6 1678 614.2 1679.8 611.7 1681.5 609.3 1683.3 606.9 1685.1 604.4 1686.8 602 1688.6 599.6 1690.3 597.1 1692.1 594.7 1693.9 592.3 1695.6 589.8 1697.4 587.4 1699.1 585 1700.9 582.5 1702.6 580.1 1704.4 577.7 1706.2 575.2 1707.9 572.8 1709.7 570.4 1711.4 567.9 1713.2 565.5 1715 563.1 1716.7 560.6 1718.4 558.2 1720.2 555.7 1721.9 553.3 1723.6 550.8 1725.3 548.3 1727 545.9 1728.7 543.4 1730.4 540.9 1732 538.4 1733.7 535.8 1735.3 533.3 1736.9 530.8 1738.5 528.3 1740.1 525.7 1741.7 523.2 1743.3 520.6 1744.9 518.1 1746.5 515.5 1748.1 513 1749.7 510.5 1751.3 507.9 1752.9 505.4 1754.5 502.8 1756.1 500.3 1757.7 497.7 1759.3 495.2 1760.9 492.7 1762.5 490.1 1764.1 487.6 1765.7 485 1767.3 482.5 1768.9 480 1770.5 477.4 1772.1 474.9 1773.7 472.3 1775.3 469.8 1776.9 467.3 1778.6 464.8 1780.2 462.2 1781.8 459.7 1783.5 457.2 1785.1 454.7 1786.8 452.2 1788.4 449.7 1790.1 447.2 1791.7 444.7 1793.4 442.2 1795 439.7 1796.7 437.1 1798.4 434.6 1800 432.1 1801.7 429.6 1803.3 427.1 1805 424.7 1806.7 422.2 1808.4 419.7 1810.1 417.2 1811.8 414.7 1813.5 412.2 1815.2 409.8 1816.9 407.3 1818.6 404.8 1820.3 402.4 1822.1 399.9 1823.8 397.5 1825.5 395 1827.2 392.5 1828.9 390.1 1830.7 387.6 1832.4 385.2 1834.1 382.7 1835.9 380.3 1837.6 377.8 1839.3 375.4 1841.1 372.9 1842.9 370.5 1844.6 368.1 1846.4 365.7 1848.2 363.2 1850 360.8 1851.8 358.4 1853.6 356 1855.4 353.6 1857.2 351.2 1859 348.8 1860.8 346.4 1862.6 344.1 1864.5 341.7 1866.3 339.3 1868.1 336.9 1869.9 334.5 1871.7 332.1 1873.5 329.7 1875.3 327.3 1877.1 324.9 1879 322.5 1880.8 320.1 1882.6 317.7 1884.4 315.3 1886.2 312.9 1888 310.5 1889.9 308.2 1891.7 305.8 1893.5 303.4 1895.4 301 1897.2 298.7 1899 296.3 1900.9 293.9 1902.8 291.6 1904.6 289.2 1906.5 286.8 1908.3 284.5 1910.2 282.1 1912.1 279.8 1914 277.4 1915.8 275.1 1917.7 272.7 1919.6 270.4 1921.4 268.1 1923.3 265.7 1925.2 263.4 1927.1 261 1929 258.7 1930.9 256.4 1932.8 254.1 1934.7 251.8 1936.7 249.5 1938.7 247.2 1940.7 245 1942.7 242.8 1944.7 240.5 1946.7 238.4 1948.8 236.2 1950.9 234.1 1953 231.9 1955.2 229.9 1957.4 227.8 1959.6 225.8 1961.9 223.9 1964.1 221.9 1966.4 220 1968.7 218.1 1971.1 216.2 1973.4 214.3 1975.7 212.4 1978.1 210.5 1980.4 208.7 1982.8 206.8 1985.2 205 1987.5 203.1 1989.9 201.3 1992.3 199.5 1994.7 197.8 1997.2 196.1 1999.7 194.4 2002.2 192.8 2004.8 191.3 2007.4 189.8 2010 188.5 2012.6 187.2 2015.3 186 2018.1 184.9 2020.8 183.9 2023.6 183.1 2026.4 182.4 2029.2 181.9 2032.1 181.6 2035 181.5 2037.8 181.6 2040.6 181.8 2043.4 182.3 2046.1 183 2048.8 183.9 2051.4 185 2053.9 186.3 2056.3 187.8 2058.7 189.5 2060.9 191.3 2063.1 193.2 2065.2 195.3 2067.2 197.4 2069.1 199.7 2070.9 202 2072.6 204.4 2074.3 206.8 2075.9 209.3 2077.4 211.9 2078.8 214.5 2080.2 217.2 2081.6 219.8 2082.8 222.5 2084.1 225.2 2085.2 228 2086.3 230.8 2087.4 233.6 2088.4 236.4 2089.3 239.2 2090.3 242.1 2091.1 244.9 2092 247.8 2092.9 250.7 2093.7 253.6 2094.4 256.5 2095.1 259.4 2095.8 262.3 2096.5 265.2 2097.1 268.2 2097.6 271.1 2098.2 274.1 2098.7 277 2099.2 280 2099.7 282.9 2100.2 285.9 2100.7 288.9 2101.1 291.8 2101.6 294.8 2102.1 297.8 2102.6 300.7 2103 303.7 2103.5 306.6 2104 309.6 2104.5 312.6 2104.9 315.5 2105.4 318.5 2105.9 321.5 2106.3 324.4 2106.8 327.4 2107.2 330.4 2107.7 333.4 2108.1 336.3 2108.5 339.3 2109 342.3 2109.4 345.2 2109.9 348.2 2110.3 351.2 2110.7 354.1 2111.2 357.1 2111.6 360.1 2112.1 363.1 2112.5 366 2112.9 369 2113.4 372 2113.8 374.9 2114.3 377.9 2114.7 380.9 2115.1 383.9 2115.6 386.8 2116 389.8 2116.4 392.8 2116.9 395.7 2117.3 398.7 2117.7 401.7 2118.2 404.7 2118.6 407.6 2119 410.6 2119.4 413.6 2119.8 416.6 2120.2 419.5 2120.6 422.5 2121 425.5 2121.4 428.5 2121.8 431.4 2122.1 434.4 2122.5 437.4 2122.9 440.4 2123.3 443.4 2123.7 446.3 2124.1 449.3 2124.4 452.3 2124.8 455.3 2125.2 458.2 2125.6 461.2 2126 464.2 2126.4 467.2 2126.8 470.2 2127.1 473.1 2127.5 476.1 2127.9 479.1 2128.3 482.1 2128.8 485 2129.2 488 2129.6 491 2130 494 2130.4 496.9 2130.8 499.9 2131.3 502.9 2131.7 505.9 2132.1 508.8 2132.5 511.8 2133 514.8 2133.4 517.7 2133.8 520.7 2134.2 523.7 2134.7 526.7 2135.1 529.6 2135.5 532.6 2135.9 535.6 2136.3 538.6 2136.8 541.5 2137.2 544.5 2137.6 547.5 2138 550.5 2138.4 553.4 2138.7 556.4 2139.1 559.4 2139.5 562.4 2139.9 565.4 2140.3 568.3 2140.6 571.3 2141 574.3 2141.4 577.3 2141.7 580.3 2142.1 583.2 2142.5 586.2 2142.8 589.2 2143.2 592.2 2143.6 595.2 2144 598.1 2144.3 601.1 2144.7 604.1 2145.2 607.1 2145.6 610 2146 613 2146.5 616 2147 618.9 2147.5 621.9 2148.1 624.8 2148.6 627.8 2149.2 630.7 2149.8 633.7 2150.3 636.6 2150.9 639.6 2151.5 642.5 2152.2 645.4 2152.8 648.4 2153.4 651.3 2154.1 654.2 2154.8 657.1 2155.5 660.1 2156.3 663 2157.1 665.9 2157.9 668.7 2158.7 671.6 2159.6 674.5 2160.4 677.4 2161.3 680.2 2162.2 683.1 2163.1 686 2164 688.8 2165 691.7 2165.9 694.5 2166.9 697.3 2168 700.2 2169 703 2170.1 705.7 2171.3 708.5 2172.5 711.2 2173.8 713.9 2175.1 716.6 2176.4 719.3 2177.8 722 2179.2 724.6 2180.7 727.1 2182.3 729.7 2183.9 732.2 2185.6 734.6 2187.4 737 2189.2 739.4 2191.1 741.7 2193 744 2195 746.2 2197 748.4 2199.1 750.5 2201.3 752.5 2203.5 754.5 2205.8 756.3 2208.1 758.1 2210.6 759.8 2213 761.5 2215.6 763 2218.1 764.5 2220.8 765.9 2223.4 767.2 2226.1 768.5 2228.8 769.7 2231.6 770.8 2234.4 771.8 2237.2 772.8 2240.1 773.7 2242.9 774.6 2245.8 775.4 2248.7 776.1 2251.6 776.8 2254.5 777.4 2257.5 777.9 2260.4 778.4 2263.4 778.8 2266.3 779.2 2269.3 779.5 2272.3 779.7 2275.3 779.9 2278.3 780 2281.3 780.1 2284.2 780.1 2287.2 780 2290.2 779.9 2293.2 779.7 2296.2 779.5 2299.2 779.2 2302.1 778.8 2305.1 778.5 2308.1 778.1 2311 777.6 2314 777.2 2317 776.7 2319.9 776.2 2322.9 775.7 2325.9 775.2 2328.8 774.6 2331.8 774.1 2334.7 773.5 2337.6 772.9 2340.6 772.3 2343.5 771.6 2346.4 771 2349.3 770.3 2352.3 769.5 2355.2 768.8 2358.1 768 2361 767.3 2363.9 766.5 2366.8 765.7 2369.7 764.9 2372.5 764.1 2375.4 763.3 2378.3 762.4 2381.2 761.6 2384.1 760.8 2387 760" fill="none" stroke="#216b99" stroke-width="6" stroke-linejoin="round" stroke-linecap="round" stroke-dasharray="51 33.5 0.1 32.5 0.1 33" stroke-dashoffset="-32"/>
<path d="M2387 760 2385.3 762.5 2383.7 765 2382 767.5 2380.3 770 2378.7 772.5 2377 775 2375.3 777.5 2373.6 779.9 2371.9 782.4 2370.2 784.9 2368.4 787.3 2366.7 789.7 2364.9 792.2 2363.1 794.6 2361.3 797 2359.5 799.4 2357.7 801.8 2355.9 804.2 2354.1 806.5 2352.2 808.9 2350.3 811.2 2348.3 813.4 2346.3 815.6 2344.3 817.8 2342.2 819.9 2340 821.9 2337.8 823.9 2335.6 825.9 2333.3 827.8 2330.9 829.6 2328.6 831.5 2326.2 833.3 2323.8 835.1 2321.4 836.9 2319 838.7 2316.6 840.5 2314.2 842.3 2311.8 844.1 2309.4 845.9 2307 847.7 2304.6 849.5 2302.1 851.3 2299.7 853.1 2297.3 854.8 2294.9 856.6 2292.4 858.3 2290 860.1 2287.5 861.8 2285.1 863.6 2282.6 865.3 2280.2 867 2277.7 868.8 2275.2 870.4 2272.8 872.1 2270.3 873.7 2267.7 875.3 2265.2 876.9 2262.6 878.3 2259.9 879.7 2257.3 881.1 2254.6 882.4 2251.9 883.6 2249.1 884.8 2246.4 885.9 2243.6 887.1 2240.8 888.2 2238 889.3 2235.2 890.4 2232.4 891.5 2229.6 892.5 2226.8 893.6 2224 894.7 2221.2 895.8 2218.4 896.9 2215.6 897.9 2212.8 899 2210 900.1 2207.2 901.1 2204.4 902.2 2201.6 903.2 2198.7 904.2 2195.9 905.3 2193.1 906.3 2190.2 907.3 2187.4 908.2 2184.6 909.2 2181.7 910.2 2178.9 911.2 2176 912.1 2173.2 913.1 2170.4 914.1 2167.5 915 2164.7 916 2161.8 916.9 2159 917.8 2156.1 918.7 2153.2 919.6 2150.3 920.4 2147.5 921.3 2144.6 922.1 2141.7 922.8 2138.8 923.6 2135.9 924.3 2132.9 925.1 2130 925.8 2127.1 926.5 2124.2 927.2 2121.3 927.9 2118.3 928.6 2115.4 929.2 2112.5 929.9 2109.6 930.5 2106.6 931.2 2103.7 931.7 2100.7 932.3 2097.8 932.8 2094.8 933.3 2091.9 933.8 2088.9 934.2 2085.9 934.6 2083 935 2080 935.4 2077 935.7 2074 936.1 2071 936.5 2068.1 936.8 2065.1 937.1 2062.1 937.5 2059.1 937.8 2056.1 938 2053.1 938.3 2050.1 938.5 2047.1 938.7 2044.1 938.9 2041.2 939 2038.2 939.1 2035.2 939.2 2032.2 939.3 2029.2 939.3 2026.1 939.4 2023.1 939.4 2020.1 939.5 2017.1 939.5 2014.1 939.6 2011.1 939.6 2008.1 939.7 2005.1 939.7 2002.1 939.7 1999.1 939.8 1996.1 939.8 1993.1 939.8 1990.1 939.8 1987.1 939.7 1984.1 939.7 1981.1 939.6 1978.1 939.5 1975.1 939.4 1972.1 939.3 1969.1 939.2 1966.1 939 1963.1 938.9 1960.1 938.7 1957.1 938.4 1954.2 938.2 1951.2 937.9 1948.2 937.6 1945.2 937.3 1942.2 936.9 1939.2 936.6 1936.3 936.2 1933.3 935.7 1930.3 935.3 1927.4 934.8 1924.4 934.2 1921.5 933.6 1918.6 933 1915.6 932.4 1912.7 931.7 1909.8 931 1906.9 930.2 1904.1 929.3 1901.2 928.4 1898.4 927.4 1895.6 926.4 1892.8 925.3 1890.1 924.2 1887.3 923 1884.6 921.7 1881.9 920.5 1879.2 919.1 1876.6 917.7 1874 916.3 1871.5 914.7 1868.9 913.1 1866.5 911.5 1864 909.8 1861.6 908 1859.3 906.2 1857 904.3 1854.7 902.3 1852.5 900.3 1850.4 898.3 1848.3 896.2 1846.3 894 1844.4 891.7 1842.5 889.4 1840.7 887 1838.9 884.6 1837.2 882.2 1835.4 879.8 1833.8 877.3 1832.1 874.8 1830.5 872.3 1829 869.7 1827.5 867.1 1826.1 864.5 1824.7 861.8 1823.4 859.2 1822.2 856.4 1821 853.7 1819.9 850.9 1818.8 848.1 1817.7 845.3 1816.6 842.5 1815.6 839.7 1814.6 836.9 1813.5 834.1 1812.6 831.3 1811.6 828.4 1810.6 825.6 1809.7 822.7 1808.8 819.8 1808 817 1807.1 814.1 1806.3 811.2 1805.5 808.3 1804.8 805.4 1804 802.5 1803.3 799.6 1802.6 796.7 1801.9 793.8 1801.2 790.8 1800.6 787.9 1800 785 1799.5 782 1799 779.1 1798.5 776.1 1798 773.1 1797.5 770.2 1797.1 767.2 1796.7 764.2 1796.3 761.3 1795.9 758.3 1795.6 755.3 1795.3 752.3 1795 749.3 1794.7 746.3 1794.4 743.3 1794.1 740.4 1793.8 737.4 1793.6 734.4 1793.3 731.4 1793.1 728.4 1792.8 725.4 1792.5 722.4 1792.3 719.4 1792 716.4 1791.8 713.4 1791.6 710.4 1791.3 707.4 1791.1 704.5 1790.9 701.5 1790.7 698.5 1790.5 695.5 1790.3 692.5 1790.1 689.5 1790 686.5 1789.8 683.5 1789.6 680.5 1789.4 677.5 1789.3 674.5 1789.1 671.5 1788.9 668.5 1788.7 665.5 1788.6 662.5 1788.4 659.5 1788.2 656.5 1788.1 653.5 1787.9 650.5 1787.7 647.5 1787.5 644.5 1787.4 641.5 1787.2 638.5 1787 635.5 1786.9 632.5 1786.7 629.5 1786.5 626.5 1786.3 623.5 1786.2 620.5 1786 617.5 1785.8 614.5 1785.6 611.5 1785.4 608.5 1785.2 605.5 1785 602.5 1784.7 599.6 1784.5 596.6 1784.2 593.6 1784 590.6 1783.7 587.6 1783.4 584.6 1783.1 581.6 1782.8 578.6 1782.5 575.6 1782.2 572.7 1781.9 569.7 1781.6 566.7 1781.3 563.7 1781 560.7 1780.7 557.7 1780.4 554.7 1780.2 551.7 1780 548.7 1779.7 545.7 1779.5 542.7 1779.3 539.8 1779.1 536.8 1779 533.8 1778.8 530.8 1778.6 527.8 1778.4 524.8 1778.3 521.8 1778.1 518.8 1777.9 515.8 1777.8 512.8 1777.6 509.8 1777.4 506.8 1777.3 503.8 1777.1 500.8 1777 497.8 1776.9 494.8 1776.7 491.8 1776.6 488.8 1776.5 485.8 1776.4 482.8 1776.2 479.8 1776.1 476.8 1776 473.8 1775.9 470.8 1775.8 467.8 1775.7 464.8 1775.6 461.8 1775.5 458.8 1775.3 455.8 1775.2 452.8 1775.1 449.8 1775 446.8 1774.9 443.8 1774.8 440.8 1774.7 437.8 1774.6 434.8 1774.4 431.8 1774.3 428.8 1774.2 425.8 1774.1 422.8 1774 419.8 1773.8 416.8 1773.7 413.8 1773.6 410.8 1773.5 407.8 1773.3 404.8 1773.2 401.8 1773.1 398.8 1773 395.8 1772.8 392.8 1772.7 389.8 1772.6 386.8 1772.4 383.8 1772.3 380.8 1772.2 377.8 1772.1 374.8 1771.9 371.8 1771.8 368.8 1771.7 365.8 1771.5 362.8 1771.4 359.8 1771.2 356.8 1771.1 353.8 1770.9 350.8 1770.8 347.8 1770.6 344.8 1770.4 341.8 1770.2 338.8 1770 335.8 1769.8 332.8 1769.6 329.8 1769.5 326.8 1769.3 323.8 1769.1 320.8 1768.9 317.8 1768.7 314.8 1768.4 311.8 1768.2 308.8 1768 305.8 1767.8 302.8 1767.6 299.8 1767.4 296.8 1767.2 293.8 1766.9 290.9 1766.7 287.9 1766.4 284.9 1766.2 281.9 1765.9 278.9 1765.6 275.9 1765.3 272.9 1765 269.9 1764.7 266.9 1764.5 263.9 1764.2 261 1763.9 258 1763.6 255 1763.3 252 1763 249 1761.5 251.4 1760.1 253.8 1758.7 256.3 1757.5 258.9 1756.4 261.5 1755.4 264.2 1754.6 267 1753.8 269.8 1753.2 272.7 1752.6 275.6 1752 278.5 1751.5 281.5 1751 284.4 1750.5 287.4 1750 290.4 1749.6 293.3 1749.1 296.3 1748.6 299.3 1748.1 302.2 1747.6 305.2 1747.1 308.1 1746.5 311.1 1746 314 1745.4 317 1744.8 319.9 1744.2 322.9 1743.5 325.8 1742.9 328.7 1742.2 331.7 1741.5 334.6 1740.8 337.5 1740.1 340.4 1739.4 343.3 1738.7 346.3 1738 349.2 1737.3 352.1 1736.5 355 1735.7 357.9 1735 360.8 1734.1 363.7 1733.3 366.5 1732.3 369.4 1731.4 372.2 1730.4 375 1729.3 377.8 1728.2 380.6 1727.1 383.4 1725.9 386.2 1724.7 388.9 1723.5 391.7 1722.3 394.4 1721.1 397.2 1719.9 399.9 1718.6 402.7 1717.4 405.4 1716.1 408.1 1714.8 410.8 1713.6 413.6 1712.3 416.3 1711 419 1709.7 421.7 1708.4 424.4 1707.1 427.1 1705.9 429.9 1704.6 432.6 1703.3 435.3 1702 438 1700.7 440.7 1699.4 443.4 1698.1 446.1 1696.7 448.8 1695.4 451.5 1694 454.2 1692.7 456.9 1691.3 459.5 1689.8 462.2 1688.4 464.8 1687 467.4 1685.5 470 1684 472.7 1682.5 475.3 1681.1 477.9 1679.6 480.5 1678.1 483.1 1676.6 485.7 1675.1 488.3 1673.6 490.9 1672.1 493.5 1670.6 496.1 1669 498.7 1667.5 501.3 1665.9 503.8 1664.4 506.4 1662.8 509 1661.2 511.5 1659.5 514 1657.9 516.5 1656.3 519 1654.6 521.6 1652.9 524.1 1651.3 526.6 1649.6 529.1 1648 531.6 1646.3 534.1 1644.6 536.6 1643 539.1 1641.3 541.6 1639.6 544.1 1638 546.6 1636.3 549.1 1634.6 551.6 1633 554.1 1631.3 556.6 1629.6 559.1 1628 561.6 1626.3 564.1 1624.6 566.6 1622.9 569.1 1621.3 571.6 1619.6 574.1 1617.9 576.6 1616.3 579.1 1614.6 581.6 1612.9 584.1 1611.3 586.6 1609.6 589.1 1607.9 591.6 1606.3 594.1 1604.6 596.6 1602.9 599.1 1601.3 601.6 1599.6 604.1 1597.9 606.6 1596.3 609.1 1594.6 611.6 1592.9 614.1 1591.3 616.6 1589.6 619.1 1587.9 621.6 1586.2 624 1584.5 626.5 1582.8 629 1581.1 631.5 1579.4 633.9 1577.6 636.4 1575.9 638.8 1574.1 641.3 1572.4 643.7 1570.6 646.1 1568.8 648.5 1567.1 651 1565.3 653.4 1563.5 655.8 1561.7 658.2 1560 660.7 1558.2 663.1 1556.4 665.5 1554.6 667.9 1552.9 670.4 1551.1 672.8 1549.4 675.2 1547.6 677.7 1545.9 680.2 1544.2 682.6 1542.5 685.1 1540.8 687.6 1539.1 690.1 1537.5 692.6 1535.8 695.1 1534.1 697.6 1532.5 700.1 1530.8 702.6 1529.1 705.1 1527.4 707.6 1525.8 710.1 1524.1 712.5 1522.4 715 1520.7 717.5 1519 720 1517.2 722.4 1515.5 724.9 1513.8 727.4 1512.1 729.8 1510.4 732.3 1508.7 734.8 1506.9 737.2 1505.2 739.7 1503.5 742.1 1501.7 744.6 1499.9 747 1498.2 749.4 1496.4 751.8 1494.5 754.2 1492.7 756.6 1490.8 758.9 1488.9 761.3 1487 763.6 1485.1 765.9 1483.2 768.2 1481.3 770.5 1479.4 772.8 1477.4 775.1 1475.5 777.5 1473.6 779.8 1471.7 782.1 1469.8 784.4 1467.9 786.7 1466 789 1464.1 791.4 1462.1 793.7 1460.2 796 1458.3 798.3 1456.4 800.6 1454.5 803 1452.6 805.3 1450.7 807.6 1448.7 809.9 1446.8 812.2 1444.9 814.5 1443 816.8 1441.1 819.2 1439.2 821.5 1437.3 823.8 1435.4 826.2 1433.5 828.5 1431.6 830.8 1429.7 833.2 1427.9 835.5 1426 837.8 1424.1 840.2 1422.1 842.5 1420.2 844.8 1418.3 847.1 1416.3 849.3 1414.3 851.6 1412.3 853.8 1410.2 856 1408.2 858.2 1406.1 860.4 1404 862.5 1401.9 864.7 1399.8 866.8 1397.7 868.9 1395.6 871.1 1393.4 873.2 1391.3 875.3 1389.1 877.3 1386.9 879.4 1384.7 881.4 1382.5 883.5 1380.3 885.5 1378.1 887.5 1375.8 889.5 1373.5 891.4 1371.2 893.4 1368.9 895.3 1366.6 897.2 1364.3 899.1 1362 901 1359.6 902.9 1357.3 904.8 1355 906.7 1352.7 908.7 1350.4 910.6 1348.1 912.5 1345.8 914.4 1343.5 916.3 1341.1 918.2 1338.8 920.1 1336.5 922 1334.1 923.8 1331.7 925.6 1329.3 927.3 1326.8 929 1324.3 930.7 1321.7 932.2 1319.2 933.8 1316.6 935.3 1314 936.8 1311.3 938.2 1308.7 939.6 1306 941 1303.3 942.3 1300.6 943.6 1297.9 944.9 1295.2 946.1 1292.5 947.4 1289.7 948.5 1286.9 949.7 1284.1 950.8 1281.3 951.9 1278.5 952.9 1275.7 953.8 1272.8 954.8 1270 955.7 1267.1 956.5 1264.2 957.3 1261.3 958.1 1258.4 958.9 1255.5 959.7 1252.6 960.5 1249.7 961.2 1246.8 962 1243.9 962.7 1241 963.4 1238.1 964.1 1235.1 964.7 1232.2 965.4 1229.2 965.9 1226.3 966.5 1223.3 967 1220.4 967.5 1217.4 967.9 1214.4 968.4 1211.5 968.8 1208.5 969.2 1205.5 969.6 1202.5 970 1199.6 970.5 1196.6 970.9 1193.6 971.3 1190.6 971.7 1187.7 972.1 1184.7 972.5 1181.7 972.9 1178.7 973.3 1175.7 973.7 1172.8 974.1 1169.8 974.5 1166.8 974.9 1163.8 975.4 1160.9 975.8 1157.9 976.2 1154.9 976.6 1151.9 977 1148.9 977.4 1146 977.7 1143 978.1 1140 978.5 1137 978.8 1134 979.1 1131 979.3 1128.1 979.5 1125.1 979.7 1122.1 979.8 1119.1 979.9 1116.1 980 1113.1 980.1 1110.1 980.1 1107.1 980.2 1104.1 980.2 1101 980.2 1098 980.2 1095 980.3 1092 980.3 1089 980.3 1086 980.3 1083 980.4 1080 980.4 1077 980.4 1074 980.4 1071 980.5 1068 980.5 1065 980.5 1062 980.5 1059 980.5 1056 980.6 1053 980.6 1050 980.6 1047 980.6 1044 980.7 1041 980.7 1037.9 980.7 1034.9 980.7 1031.9 980.8 1028.9 980.8 1025.9 980.8 1022.9 980.8 1019.9 980.8 1016.9 980.9 1013.9 980.9 1010.9 980.9 1007.9 980.9 1004.9 980.9 1001.9 981 998.9 981 995.9 981 992.9 981 989.9 981 986.9 981 983.9 981 980.9 981 977.8 981 974.8 981 971.8 981 968.8 981 965.8 981 962.8 981 959.8 981 956.8 981 953.8 981 950.8 981 947.8 981 944.8 981 941.8 981 938.8 981 935.8 981 932.8 981 929.8 981 926.8 981 923.8 981 920.8 981 917.7 981 914.7 981 911.7 981 908.7 981 905.7 981 902.7 981 899.7 981 896.7 981 893.7 981 890.7 981 887.7 981 884.7 981 881.7 981 878.7 981 875.7 981 872.7 981 869.7 981 866.7 981 863.7 981 860.7 981 857.6 981 854.6 981 851.6 981 848.6 981 845.6 981 842.6 981 839.6 981 836.6 981 833.6 981 830.6 981 827.6 981 824.6 981 821.6 981 818.6 981 815.6 981 812.6 981 809.6 981 806.6 981 803.6 981 800.6 981 797.5 981 794.5 981 791.5 980.9 788.5 980.9 785.5 980.9 782.5 980.9 779.5 980.9 776.5 980.9 773.5 980.9 770.5 980.9 767.5 980.8 764.5 980.8 761.5 980.8 758.5 980.8 755.5 980.8 752.5 980.8 749.5 980.7 746.5 980.7 743.5 980.7 740.5 980.7 737.4 980.7 734.4 980.7 731.4 980.7 728.4 980.6 725.4 980.6 722.4 980.6 719.4 980.6 716.4 980.6 713.4 980.6 710.4 980.6 707.4 980.5 704.4 980.5 701.4 980.5 698.4 980.5 695.4 980.5 692.4 980.5 689.4 980.4 686.4 980.4 683.4 980.4 680.4 980.4 677.4 980.4 674.3 980.4 671.3 980.4 668.3 980.3 665.3 980.3 662.3 980.3 659.3 980.3 656.3 980.3 653.3 980.3 650.3 980.3 647.3 980.2 644.3 980.2 641.3 980.2 638.3 980.2 635.3 980.2 632.3 980.2 629.3 980.1 626.3 980.1 623.3 980.1 620.3 980.1 617.3 980.1 614.2 980 611.2 980 608.2 980 605.2 979.9 602.2 979.9 599.2 979.8 596.2 979.7 593.2 979.6 590.2 979.5 587.2 979.4 584.2 979.3 581.2 979.2 578.2 979.1 575.2 978.9 572.2 978.8 569.2 978.7 566.2 978.6 563.2 978.4 560.2 978.3 557.2 978.2 554.2 978 551.2 977.9 548.2 977.8 545.2 977.7 542.2 977.6 539.2 977.6 536.2 977.6 533.2 977.6 530.2 977.6 527.2 977.7 524.2 977.8 521.2 978 518.2 978.2 515.3 978.5 512.4 978.8 509.5 979.3 506.6 979.8 503.9 980.5 501.2 981.4 498.6 982.4 496.2 983.7 493.8 985.1 491.5 986.8 489.4 988.6 487.3 990.6 485.3 992.6 483.3 994.8 481.4 997.1 479.5 999.4 477.6 1001.7 475.7 1004 473.8 1006.3 471.9 1008.7 470 1011" fill="none" stroke="#216b99" stroke-width="6" stroke-linejoin="round" stroke-linecap="round" stroke-dasharray="51 33.5 0.1 32.5 0.1 33"/>
<path d="M470 1011 473 1010.5 475.9 1009.9 478.9 1009.4 481.8 1008.9 484.8 1008.3 487.7 1007.8 490.7 1007.3 493.6 1006.8 496.6 1006.2 499.5 1005.7 502.5 1005.2 505.4 1004.7 508.4 1004.2 511.4 1003.7 514.3 1003.3 517.3 1002.9 520.3 1002.5 523.2 1002.1 526.2 1001.8 529.2 1001.5 532.2 1001.2 535.2 1000.9 538.2 1000.7 541.2 1000.4 544.2 1000.2 547.1 1000 550.1 999.7 553.1 999.5 556.1 999.3 559.1 999.1 562.1 998.8 565.1 998.6 568.1 998.4 571.1 998.2 574.1 997.9 577.1 997.7 580.1 997.5 583.1 997.3 586 997.1 589 996.9 592 996.7 595 996.5 598 996.3 601 996.2 604 996 607 995.9 610 995.8 613 995.6 616 995.5 619 995.4 622 995.3 625 995.3 628 995.2 631 995.1 634 995 637 994.9 640 994.8 643 994.7 646 994.6 649 994.5 652 994.4 655 994.3 658 994.3 661 994.2 664 994.1 667 994 670 993.9 673 993.8 676 993.7 679 993.6 682 993.5 685 993.5 688 993.4 691 993.3 694 993.2 697 993.1 700 993 703 993 706 992.9 709 992.8 712 992.8 715 992.7 718 992.6 721 992.6 724 992.5 727 992.5 730 992.4 733 992.3 736 992.3 739 992.2 742 992.2 745 992.1 748 992 751 992 754 991.9 757 991.9 760 991.8 763 991.7 766 991.7 769 991.6 772 991.6 775 991.5 778 991.4 781 991.4 784 991.3 787 991.3 790 991.2 793 991.1 796 991.1 799 991 802 991 805 990.9 808 990.8 811 990.8 814 990.7 817 990.7 820 990.6 823 990.5 826 990.5 829 990.4 832 990.4 835 990.3 838 990.2 841 990.2 844 990.1 847 990.1 850 990 853 989.9 856 989.9 859 989.8 862 989.8 865 989.7 868 989.6 871 989.6 874 989.5 877 989.5 880 989.4 883 989.3 886 989.3 889 989.2 892 989.2 895 989.1 898 989 901 989 904 988.9 907 988.9 910 988.8 913 988.7 916 988.7 919 988.6 922 988.6 925 988.5 928 988.4 931 988.4 934 988.3 937 988.3 940 988.2 943 988.1 946 988.1 949 988 952 988 955 987.9 958 987.8 961 987.8 964 987.7 967 987.7 970 987.6 973 987.5 976 987.5 979 987.4 982 987.4 985 987.3 988 987.2 991 987.2 994 987.1 997 987 1000 987 1003 986.9 1006 986.8 1009 986.7 1012 986.6 1015 986.5 1018 986.5 1021 986.4 1024 986.3 1027 986.2 1030 986.1 1033 986 1036 985.9 1039 985.8 1042 985.7 1045 985.6 1048 985.6 1051 985.5 1054 985.4 1057 985.3 1060 985.2 1063 985.1 1066 985 1069 984.9 1072 984.8 1075 984.7 1078 984.7 1081 984.6 1084 984.5 1087 984.4 1090 984.3 1093 984.1 1096 984 1099 983.9 1102 983.8 1105 983.6 1108 983.4 1111 983.3 1114 983.1 1117 982.9 1120 982.8 1123 982.6 1126 982.4 1129 982.2 1132 982 1135 981.8 1138 981.7 1140.9 981.5 1143.9 981.3 1146.9 981.1 1149.9 980.9 1152.9 980.7 1155.9 980.5 1158.9 980.4 1161.9 980.2 1164.9 980 1167.9 979.8 1170.9 979.5 1173.9 979.3 1176.9 979.1 1179.9 978.8 1182.9 978.6 1185.8 978.3 1188.8 978 1191.8 977.7 1194.8 977.3 1197.8 977 1200.8 976.7 1203.7 976.3 1206.7 976 1209.7 975.6 1212.7 975.3 1215.7 974.9 1218.6 974.6 1221.6 974.2 1224.6 973.9 1227.6 973.6 1230.6 973.2 1233.5 972.9 1236.5 972.6 1239.5 972.3 1242.5 972 1245.5 971.7 1248.5 971.4 1251.5 971.1 1254.4 970.8 1257.4 970.5 1260.4 970.2 1263.4 969.9 1266.4 969.6 1269.4 969.3 1272.4 969 1275.3 968.6 1278.3 968.3 1281.3 967.9 1284.3 967.6 1287.2 967.2 1290.2 966.8 1293.2 966.3 1296.2 965.9 1299.1 965.4 1302.1 965 1305.1 964.5 1308 964.1 1311 963.6 1313.9 963.1 1316.9 962.6 1319.9 962.1 1322.8 961.6 1325.8 961 1328.7 960.5 1331.6 959.8 1334.5 959.2 1337.5 958.5 1340.4 957.8 1343.2 957 1346.1 956.2 1349 955.4 1351.9 954.5 1354.8 953.6 1357.6 952.8 1360.5 951.9 1363.4 951 1366.2 950.1 1369.1 949.1 1371.9 948.2 1374.7 947.2 1377.5 946.1 1380.3 945 1383 943.8 1385.7 942.6 1388.4 941.3 1391.1 939.9 1393.7 938.5 1396.3 937 1398.8 935.4 1401.3 933.8 1403.7 932.1 1406.2 930.4 1408.6 928.6 1411 926.8 1413.3 925 1415.7 923.1 1418.1 921.3 1420.4 919.5 1422.8 917.6 1425.2 915.8 1427.6 914 1430 912.3 1432.5 910.5 1434.9 908.7 1437.3 907 1439.8 905.3 1442.2 903.5 1444.7 901.8 1447.1 900.1 1449.6 898.4 1452 896.6 1454.5 894.9 1456.9 893.1 1459.3 891.3 1461.6 889.4 1464 887.6 1466.3 885.7 1468.6 883.8 1470.9 881.8 1473.2 879.9 1475.4 877.9 1477.7 876 1480 874 1482.3 872.1 1484.6 870.2 1486.9 868.2 1489.2 866.3 1491.4 864.3 1493.7 862.4 1496 860.5 1498.3 858.5 1500.6 856.6 1502.9 854.7 1505.2 852.7 1507.5 850.8 1509.8 848.9 1512.1 846.9 1514.4 845 1516.7 843.1 1519 841.2 1521.3 839.2 1523.6 837.3 1525.9 835.4 1528.2 833.5 1530.6 831.6 1532.9 829.7 1535.2 827.9 1537.6 826 1539.9 824.1 1542.3 822.2 1544.7 820.4 1547 818.6 1549.4 816.7 1551.8 814.9 1554.2 813.1 1556.6 811.3 1559 809.5 1561.4 807.7 1563.8 805.9 1566.2 804.1 1568.6 802.3 1570.9 800.4 1573.3 798.6 1575.6 796.7 1578 794.8 1580.3 792.9 1582.6 791 1584.9 789.1 1587.2 787.1 1589.4 785.2 1591.7 783.2 1594 781.3 1596.3 779.4 1598.6 777.5 1601 775.6 1603.3 773.7 1605.7 771.9 1608 770 1610.4 768.2 1612.8 766.4 1615.2 764.6 1617.6 762.8 1620 761.1 1622.5 759.3 1624.9 757.5 1627.3 755.7 1629.7 753.9 1632.1 752.1 1634.5 750.3 1636.9 748.5 1639.3 746.7 1641.7 744.9 1644.1 743.2 1646.6 741.4 1649 739.7 1651.5 738 1653.9 736.3 1656.4 734.6 1659 733 1661.5 731.4 1664 729.8 1666.5 728.2 1669.1 726.6 1671.6 724.9 1674.1 723.3 1676.6 721.7 1679.1 720 1681.6 718.3 1684 716.6 1686.5 714.8 1688.9 713 1691.3 711.3 1693.7 709.5 1696.1 707.6 1698.5 705.8 1700.8 704 1703.2 702.2 1705.6 700.3 1707.9 698.5 1710.3 696.6 1712.7 694.8 1715 692.9 1717.4 691 1719.7 689.1 1722 687.3 1724.4 685.4 1726.7 683.5 1729 681.6 1731.3 679.7 1733.6 677.7 1735.9 675.8 1738.1 673.8 1740.4 671.8 1742.6 669.8 1744.7 667.7 1746.9 665.6 1749 663.5 1751.1 661.4 1753.2 659.3 1755.3 657.1 1757.4 655 1759.5 652.8 1761.6 650.6 1763.6 648.4 1765.6 646.2 1767.7 644 1769.7 641.8 1771.6 639.5 1773.6 637.3 1775.6 635 1777.5 632.7 1779.4 630.4 1781.3 628.1 1783.2 625.7 1785.1 623.4 1787 621.1 1788.9 618.8 1790.8 616.4 1792.7 614.1 1794.5 611.7 1796.3 609.3 1798.1 607 1799.9 604.6 1801.7 602.1 1803.4 599.7 1805.1 597.2 1806.8 594.7 1808.5 592.2 1810.1 589.7 1811.8 587.2 1813.4 584.7 1815 582.2 1816.7 579.7 1818.3 577.2 1819.9 574.7 1821.6 572.2 1823.3 569.7 1825 567.2 1826.7 564.8 1828.5 562.3 1830.2 559.9 1832 557.5 1833.9 555.2 1835.7 552.8 1837.6 550.5 1839.5 548.1 1841.4 545.8 1843.3 543.5 1845.2 541.2 1847.1 538.9 1849 536.6 1851 534.3 1852.9 532 1854.9 529.7 1856.9 527.5 1858.9 525.3 1860.9 523.1 1863 520.9 1865.1 518.8 1867.3 516.7 1869.4 514.6 1871.6 512.6 1873.8 510.6 1876.1 508.6 1878.3 506.6 1880.6 504.7 1882.9 502.8 1885.2 501 1887.6 499.2 1890.1 497.6 1892.6 496 1895.1 494.5 1897.7 493.1 1900.4 491.8 1903 490.5 1905.8 489.4 1908.5 488.4 1911.3 487.5 1914 486.7 1916.8 486.1 1919.6 485.7 1922.4 485.5 1925.2 485.5 1928 485.7 1930.8 486.2 1933.5 486.8 1936.3 487.6 1939 488.5 1941.7 489.6 1944.3 490.9 1946.8 492.2 1949.3 493.8 1951.6 495.4 1953.8 497.2 1955.9 499.2 1958 501.3 1959.9 503.4 1961.8 505.7 1963.7 508 1965.5 510.4 1967.2 512.8 1969 515.2 1970.8 517.6 1972.5 520.1 1974.2 522.5 1975.8 525 1977.4 527.5 1979 530.1 1980.5 532.7 1981.9 535.3 1983.3 537.9 1984.6 540.6 1985.9 543.3 1987.1 546 1988.3 548.8 1989.4 551.5 1990.6 554.3 1991.7 557.1 1992.8 559.9 1993.8 562.7 1994.9 565.5 1995.9 568.3 1996.9 571.1 1997.9 574 1998.8 576.8 1999.8 579.7 2000.7 582.5 2001.6 585.4 2002.4 588.3 2003.3 591.1 2004.2 594 2005.1 596.9 2005.9 599.7 2006.8 602.6 2007.6 605.5 2008.5 608.4 2009.3 611.3 2010.2 614.1 2011 617 2011.8 619.9 2012.7 622.8 2013.5 625.7 2014.3 628.6 2015.1 631.5 2015.9 634.3 2016.7 637.2 2017.5 640.1 2018.3 643 2019.1 645.9 2019.9 648.8 2020.7 651.7 2021.4 654.6 2022.2 657.5 2023.1 660.4 2023.9 663.3 2024.7 666.2 2025.5 669 2026.4 671.9 2027.2 674.8 2028.1 677.7 2029 680.5 2029.9 683.4 2030.9 686.2 2031.8 689.1 2032.8 691.9 2033.7 694.8 2034.7 697.6 2035.7 700.4 2036.6 703.3 2037.6 706.1 2038.6 709 2039.6 711.8 2040.6 714.6 2041.6 717.4 2042.6 720.3 2043.6 723.1 2044.7 725.9 2045.8 728.7 2046.9 731.5 2048 734.2 2049.2 737 2050.3 739.8 2051.5 742.5 2052.7 745.3 2053.8 748.1 2055 750.8 2056.2 753.6 2057.4 756.3 2058.6 759.1 2059.9 761.8 2061.2 764.5 2062.5 767.2 2063.8 769.8 2065.2 772.5 2066.7 775.1 2068.2 777.7 2069.7 780.2 2071.3 782.8 2072.9 785.3 2074.5 787.8 2076.2 790.3 2077.8 792.8 2079.5 795.3 2081.2 797.7 2083 800.1 2084.8 802.5 2086.7 804.7 2088.7 806.9 2090.7 809 2092.9 811.1 2095.1 813 2097.3 814.9 2099.7 816.7 2102.1 818.4 2104.5 820.1 2107 821.8 2109.5 823.4 2112.1 824.9 2114.6 826.4 2117.3 827.8 2119.9 829 2122.6 830.2 2125.4 831.3 2128.1 832.2 2131 833.1 2133.8 833.9 2136.7 834.6 2139.6 835.2 2142.5 835.8 2145.5 836.4 2148.4 837 2151.4 837.5 2154.3 838 2157.3 838.4 2160.2 838.8 2163.2 839.1 2166.1 839.4 2169.1 839.5 2172.1 839.5 2175 839.5 2178 839.3 2181 839.1 2183.9 838.8 2186.9 838.5 2189.9 838.1 2192.8 837.7 2195.8 837.3 2198.7 836.8 2201.7 836.2 2204.6 835.6 2207.5 835 2210.4 834.3 2213.3 833.6 2216.2 832.8 2219.1 832 2222 831.1 2224.8 830.2 2227.7 829.3 2230.6 828.4 2233.4 827.5 2236.3 826.6 2239.1 825.7 2242 824.8 2244.8 823.8 2247.7 822.9 2250.5 821.9 2253.4 820.9 2256.2 819.9 2259 818.9 2261.8 817.9 2264.6 816.8 2267.4 815.7 2270.2 814.7 2273 813.6 2275.8 812.5 2278.6 811.4 2281.4 810.2 2284.2 809.1 2286.9 808 2289.7 806.9 2292.5 805.7 2295.3 804.6 2298 803.5 2300.8 802.3 2303.6 801.1 2306.3 799.9 2309 798.6 2311.8 797.4 2314.5 796.1 2317.2 794.8 2319.9 793.5 2322.6 792.2 2325.3 790.9 2327.9 789.5 2330.6 788.2 2333.3 786.8 2336 785.5 2338.7 784.2 2341.4 782.8 2344.1 781.5 2346.7 780.1 2349.4 778.8 2352.1 777.4 2354.8 776.1 2357.5 774.8 2360.2 773.4 2362.8 772.1 2365.5 770.7 2368.2 769.4 2370.9 768.1 2373.6 766.7 2376.3 765.4 2378.9 764 2381.6 762.7 2384.3 761.3 2387 760" fill="none" stroke="#b71d2b" stroke-width="6.5" stroke-linejoin="round" stroke-linecap="round" stroke-dasharray="14 17"/>
<path d="M2387 760 2385.3 762.5 2383.7 765 2382 767.5 2380.3 770 2378.7 772.5 2377 775 2375.3 777.5 2373.6 779.9 2371.9 782.4 2370.2 784.9 2368.4 787.3 2366.7 789.7 2364.9 792.2 2363.1 794.6 2361.3 797 2359.5 799.4 2357.7 801.8 2355.9 804.2 2354 806.5 2352.2 808.9 2350.3 811.2 2348.3 813.4 2346.3 815.6 2344.3 817.8 2342.2 819.9 2340 822 2337.8 823.9 2335.5 825.9 2333.2 827.8 2330.9 829.7 2328.5 831.5 2326.2 833.3 2323.8 835.1 2321.4 836.9 2319 838.8 2316.6 840.6 2314.2 842.4 2311.8 844.2 2309.4 845.9 2307 847.7 2304.5 849.5 2302.1 851.3 2299.7 853.1 2297.3 854.8 2294.8 856.6 2292.4 858.4 2290 860.1 2287.5 861.9 2285.1 863.6 2282.6 865.3 2280.2 867.1 2277.7 868.8 2275.2 870.5 2272.7 872.1 2270.2 873.8 2267.7 875.4 2265.2 876.9 2262.6 878.4 2260 879.8 2257.3 881.2 2254.6 882.5 2251.9 883.8 2249.2 885 2246.4 886.2 2243.7 887.3 2240.9 888.5 2238.1 889.6 2235.3 890.7 2232.5 891.9 2229.8 893 2227 894.1 2224.2 895.2 2221.4 896.4 2218.6 897.5 2215.8 898.6 2213 899.7 2210.2 900.8 2207.4 901.9 2204.6 903 2201.8 904 2199 905.1 2196.2 906.1 2193.4 907.1 2190.5 908.1 2187.7 909.1 2184.9 910.1 2182 911.1 2179.2 912.1 2176.4 913 2173.5 914 2170.7 915 2167.8 915.9 2165 916.9 2162.1 917.8 2159.3 918.7 2156.4 919.7 2153.5 920.6 2150.7 921.4 2147.8 922.3 2144.9 923.1 2142 923.9 2139.1 924.7 2136.2 925.5 2133.3 926.3 2130.4 927.1 2127.5 927.8 2124.6 928.6 2121.7 929.3 2118.8 930.1 2115.9 930.8 2113 931.6 2110.1 932.3 2107.1 933 2104.2 933.7 2101.3 934.3 2098.4 935 2095.4 935.6 2092.5 936.2 2089.5 936.8 2086.6 937.4 2083.6 937.9 2080.7 938.5 2077.7 939 2074.8 939.5 2071.8 940.1 2068.9 940.6 2065.9 941.1 2063 941.6 2060 942.1 2057 942.5 2054.1 943 2051.1 943.4 2048.1 943.8 2045.1 944.1 2042.2 944.4 2039.2 944.7 2036.2 945 2033.2 945.3 2030.2 945.6 2027.2 945.8 2024.2 946.1 2021.2 946.3 2018.2 946.5 2015.2 946.8 2012.2 947 2009.2 947.3 2006.3 947.5 2003.3 947.7 2000.3 948 1997.3 948.2 1994.3 948.4 1991.3 948.7 1988.3 948.9 1985.3 949.1 1982.3 949.3 1979.3 949.4 1976.3 949.6 1973.3 949.7 1970.3 949.8 1967.3 949.8 1964.3 949.9 1961.3 949.9 1958.3 950 1955.3 950 1952.3 950 1949.3 950 1946.3 950 1943.3 950 1940.3 950 1937.3 950 1934.3 950 1931.3 950 1928.3 950 1925.3 950 1922.3 950 1919.3 950 1916.3 949.9 1913.3 949.9 1910.3 949.8 1907.3 949.7 1904.3 949.6 1901.3 949.4 1898.3 949.2 1895.3 948.9 1892.3 948.6 1889.4 948.2 1886.4 947.8 1883.4 947.4 1880.5 946.8 1877.6 946.3 1874.6 945.7 1871.7 945 1868.8 944.3 1865.9 943.6 1863 942.8 1860.1 942.1 1857.2 941.2 1854.3 940.4 1851.5 939.5 1848.6 938.6 1845.8 937.6 1843 936.5 1840.3 935.4 1837.5 934.2 1834.8 932.9 1832.2 931.6 1829.5 930.2 1826.9 928.8 1824.4 927.2 1821.8 925.7 1819.3 924.1 1816.9 922.4 1814.6 920.6 1812.3 918.7 1810.1 916.8 1807.9 914.7 1805.9 912.6 1803.9 910.4 1802 908.2 1800.1 905.8 1798.3 903.5 1796.6 901.1 1794.9 898.6 1793.3 896.1 1791.8 893.5 1790.4 890.9 1789 888.3 1787.7 885.6 1786.5 882.9 1785.3 880.1 1784.2 877.4 1783.1 874.6 1782 871.8 1781 869 1780 866.1 1779 863.3 1778.1 860.5 1777.1 857.6 1776.3 854.7 1775.4 851.9 1774.6 849 1773.8 846.1 1773 843.2 1772.2 840.3 1771.5 837.4 1770.7 834.5 1770 831.6 1769.4 828.6 1768.8 825.7 1768.2 822.8 1767.6 819.8 1767.1 816.9 1766.6 813.9 1766.1 810.9 1765.7 808 1765.2 805 1764.8 802 1764.4 799.1 1764 796.1 1763.6 793.1 1763.1 790.1 1762.7 787.2 1762.3 784.2 1762 781.2 1761.6 778.2 1761.2 775.3 1760.9 772.3 1760.5 769.3 1760.2 766.3 1759.9 763.3 1759.6 760.3 1759.2 757.3 1758.9 754.4 1758.6 751.4 1758.3 748.4 1758 745.4 1757.7 742.4 1757.4 739.4 1757.1 736.4 1756.8 733.4 1756.5 730.4 1756.2 727.5 1755.9 724.5 1755.6 721.5 1755.3 718.5 1755.1 715.5 1754.8 712.5 1754.5 709.5 1754.2 706.5 1753.9 703.6 1753.6 700.6 1753.3 697.6 1753 694.6 1752.7 691.6 1752.4 688.6 1752.1 685.6 1751.9 682.6 1751.6 679.6 1751.4 676.6 1751.2 673.6 1751 670.7 1750.8 667.7 1750.7 664.7 1750.5 661.7 1750.4 658.7 1750.2 655.7 1750.1 652.7 1750 649.7 1749.9 646.7 1749.7 643.7 1749.6 640.7 1749.5 637.7 1749.4 634.7 1749.3 631.7 1749.1 628.7 1749 625.7 1748.9 622.7 1748.8 619.6 1748.7 616.6 1748.5 613.6 1748.4 610.6 1748.3 607.6 1748.2 604.6 1748.1 601.6 1747.9 598.6 1747.8 595.6 1747.7 592.6 1747.6 589.6 1747.5 586.6 1747.3 583.6 1747.2 580.6 1747.1 577.6 1747 574.6 1746.9 571.6 1746.7 568.6 1746.6 565.6 1746.5 562.6 1746.4 559.6 1746.3 556.6 1746.1 553.6 1746 550.6 1745.9 547.6 1745.8 544.6 1745.7 541.6 1745.5 538.6 1745.4 535.6 1745.3 532.6 1745.1 529.6 1745 526.6 1744.9 523.6 1744.7 520.6 1744.6 517.6 1744.4 514.6 1744.3 511.6 1744.1 508.6 1744 505.6 1743.8 502.6 1743.6 499.6 1743.5 496.6 1743.3 493.6 1743.2 490.6 1743 487.6 1742.8 484.6 1742.7 481.6 1742.5 478.6 1742.4 475.6 1742.2 472.6 1742 469.6 1741.9 466.6 1741.7 463.6 1741.6 460.6 1741.4 457.6 1741.2 454.6 1741 451.6 1740.9 448.7 1740.7 445.7 1740.5 442.7 1740.3 439.7 1740.1 436.7 1739.9 433.7 1739.7 430.7 1739.5 427.7 1739.3 424.7 1739.1 421.7 1738.9 418.7 1738.7 415.7 1738.5 412.7 1738.3 409.7 1738.1 406.7 1737.9 403.7 1737.7 400.7 1737.5 397.7 1737.3 394.7 1737.1 391.7 1736.9 388.7 1736.7 385.7 1736.5 382.7 1736.3 379.7 1736 376.7 1735.8 373.7 1735.6 370.7 1735.3 367.8 1735.1 364.8 1734.8 361.8 1734.6 358.8 1734.3 355.8 1734 352.8 1733.8 349.8 1733.5 346.8 1733.3 343.8 1733 340.8 1732.7 337.8 1732.4 334.9 1732 331.9 1731.7 328.9 1731.3 326 1730.8 323 1730.3 320.1 1729.7 317.1 1729 314.2 1728.3 311.3 1727.5 308.5 1726.7 305.6 1725.8 302.7 1724.9 299.9 1724 297 1722.7 299.7 1721.4 302.4 1720.2 305.1 1719 307.8 1717.9 310.6 1716.8 313.4 1715.8 316.2 1714.9 319 1714 321.9 1713.2 324.7 1712.4 327.6 1711.7 330.5 1710.9 333.4 1710.2 336.3 1709.5 339.2 1708.8 342.2 1708.1 345.1 1707.4 348 1706.7 350.9 1706 353.8 1705.3 356.7 1704.6 359.7 1703.9 362.6 1703.2 365.5 1702.4 368.4 1701.7 371.3 1700.9 374.2 1700.1 377.1 1699.3 380 1698.5 382.9 1697.7 385.8 1696.9 388.6 1696 391.5 1695.2 394.4 1694.3 397.3 1693.5 400.1 1692.6 403 1691.7 405.9 1690.8 408.7 1690 411.6 1689.1 414.5 1688.1 417.3 1687.2 420.2 1686.2 423 1685.3 425.8 1684.2 428.7 1683.2 431.5 1682.2 434.3 1681.1 437.1 1680 439.9 1678.9 442.7 1677.8 445.5 1676.7 448.2 1675.6 451 1674.5 453.8 1673.3 456.6 1672.2 459.4 1671.1 462.1 1669.9 464.9 1668.7 467.7 1667.5 470.4 1666.3 473.1 1665 475.8 1663.7 478.5 1662.4 481.2 1661 483.9 1659.6 486.6 1658.2 489.2 1656.8 491.9 1655.4 494.5 1654 497.1 1652.6 499.8 1651.1 502.4 1649.7 505 1648.2 507.7 1646.7 510.3 1645.2 512.9 1643.7 515.5 1642.2 518.1 1640.7 520.6 1639.2 523.2 1637.6 525.8 1636.1 528.4 1634.5 530.9 1633 533.5 1631.4 536.1 1629.8 538.6 1628.3 541.2 1626.7 543.7 1625.1 546.3 1623.5 548.8 1621.9 551.3 1620.2 553.8 1618.6 556.3 1616.9 558.8 1615.3 561.3 1613.6 563.8 1611.9 566.3 1610.3 568.8 1608.6 571.3 1606.9 573.8 1605.2 576.3 1603.6 578.8 1601.9 581.3 1600.3 583.8 1598.6 586.3 1596.9 588.8 1595.3 591.3 1593.6 593.8 1592 596.3 1590.4 598.8 1588.7 601.3 1587.1 603.8 1585.4 606.3 1583.8 608.9 1582.2 611.4 1580.5 613.9 1578.9 616.4 1577.2 618.9 1575.6 621.4 1574 624 1572.4 626.5 1570.7 629 1569.1 631.5 1567.5 634 1565.8 636.5 1564.2 639.1 1562.6 641.6 1561 644.1 1559.3 646.6 1557.7 649.1 1556.1 651.7 1554.4 654.2 1552.8 656.7 1551.2 659.2 1549.5 661.7 1547.8 664.2 1546.2 666.7 1544.5 669.2 1542.7 671.6 1541 674 1539.2 676.4 1537.4 678.8 1535.6 681.2 1533.7 683.5 1531.8 685.9 1529.9 688.2 1528 690.5 1526.1 692.8 1524.2 695.2 1522.3 697.5 1520.4 699.8 1518.6 702.1 1516.7 704.5 1514.8 706.8 1512.9 709.2 1511.1 711.5 1509.2 713.9 1507.4 716.3 1505.6 718.7 1503.8 721 1501.9 723.4 1500.1 725.8 1498.3 728.2 1496.5 730.6 1494.7 733 1492.9 735.4 1491 737.8 1489.2 740.2 1487.5 742.6 1485.7 745 1483.9 747.4 1482.1 749.8 1480.3 752.2 1478.5 754.6 1476.7 757 1475 759.4 1473.2 761.8 1471.4 764.3 1469.6 766.7 1467.8 769.1 1466 771.5 1464.2 773.9 1462.4 776.2 1460.5 778.6 1458.7 781 1456.9 783.4 1455 785.7 1453.2 788.1 1451.3 790.5 1449.5 792.8 1447.7 795.2 1445.8 797.6 1444 800 1442.2 802.3 1440.3 804.7 1438.5 807.1 1436.7 809.5 1434.9 811.9 1433.1 814.2 1431.2 816.6 1429.4 819 1427.6 821.4 1425.8 823.8 1424 826.2 1422.1 828.6 1420.3 830.9 1418.4 833.3 1416.5 835.6 1414.6 837.9 1412.7 840.2 1410.7 842.4 1408.7 844.6 1406.7 846.9 1404.6 849.1 1402.6 851.2 1400.5 853.4 1398.4 855.6 1396.3 857.7 1394.2 859.9 1392.1 862 1390 864.1 1387.9 866.2 1385.7 868.3 1383.5 870.3 1381.3 872.4 1379.1 874.4 1376.9 876.5 1374.7 878.5 1372.5 880.4 1370.2 882.4 1367.9 884.4 1365.6 886.3 1363.3 888.2 1361 890.1 1358.6 891.9 1356.2 893.7 1353.8 895.5 1351.4 897.3 1349 899.1 1346.6 900.8 1344.1 902.5 1341.7 904.3 1339.2 906 1336.7 907.7 1334.3 909.4 1331.8 911.1 1329.3 912.8 1326.8 914.5 1324.4 916.1 1321.9 917.8 1319.3 919.4 1316.8 921.1 1314.3 922.7 1311.8 924.3 1309.2 925.9 1306.7 927.5 1304.2 929.1 1301.6 930.7 1299.1 932.3 1296.5 933.8 1293.9 935.3 1291.3 936.8 1288.7 938.3 1286.1 939.7 1283.4 941 1280.7 942.4 1278 943.6 1275.3 944.9 1272.6 946.1 1269.8 947.3 1267.1 948.5 1264.3 949.7 1261.5 950.8 1258.8 951.9 1256 952.9 1253.1 953.9 1250.3 954.9 1247.4 955.7 1244.6 956.6 1241.7 957.3 1238.8 958 1235.9 958.7 1233 959.4 1230 960 1227.1 960.6 1224.2 961.2 1221.2 961.8 1218.3 962.4 1215.3 963 1212.4 963.6 1209.5 964.2 1206.5 964.8 1203.6 965.4 1200.6 966 1197.7 966.6 1194.8 967.2 1191.8 967.8 1188.9 968.4 1185.9 969 1183 969.6 1180 970.2 1177.1 970.7 1174.2 971.3 1171.2 971.9 1168.3 972.5 1165.3 973.1 1162.4 973.6 1159.4 974.2 1156.5 974.8 1153.6 975.4 1150.6 975.9 1147.7 976.5 1144.7 977 1141.8 977.5 1138.8 978 1135.8 978.4 1132.9 978.8 1129.9 979.1 1126.9 979.4 1124 979.6 1121 979.8 1118 979.9 1115 980 1112 980.1 1109 980.1 1106 980.2 1103 980.2 1100 980.2 1097 980.3 1094 980.3 1091 980.3 1088 980.3 1085 980.3 1082 980.4 1079 980.4 1076 980.4 1073 980.4 1070 980.5 1067 980.5 1064 980.5 1061 980.5 1058 980.6 1055 980.6 1052 980.6 1049 980.6 1046 980.6 1043 980.7 1040 980.7 1037 980.7 1034 980.7 1031 980.8 1028 980.8 1025 980.8 1022 980.8 1019 980.9 1016 980.9 1013 980.9 1010 980.9 1007 980.9 1004 980.9 1001 981 998 981 995 981 992 981 989 981 986 981 983 981 980 981 977 981 974 981 971 981 968 981 965 981 962 981 959 981 956 981 953 981 950 981 947 981 944 981 941 981 938 981 935 981 932 981 929 981 926 981 923 981 920 981 917 981 914 981 911 981 908 981 905 981 902 981 899 981 896 981 893 981 890 981 887 981 884 981 881 981 878 981 875 981 872 981 869 981 866 981 863 981 860 981 857 981 854 981 851 981 848 981 845 981 842 981 839 981 836 981 833 981 830 981 827 981 824 981 821 981 818 981 815 981 812 981 809 981 806 981 803 981 800 981 797 981 794 981 791 980.9 788 980.9 785 980.9 782 980.9 779 980.9 776 980.9 773 980.9 770 980.8 767 980.8 764 980.8 761 980.8 758 980.8 755 980.8 752 980.8 749 980.7 746 980.7 743 980.7 740 980.7 737 980.7 734 980.7 731 980.7 728 980.6 725 980.6 722 980.6 719 980.6 716 980.6 713 980.6 710 980.5 707 980.5 704 980.5 701 980.5 698 980.5 695 980.5 692 980.5 689 980.4 686 980.4 683 980.4 680 980.4 677 980.4 674 980.4 671 980.4 668 980.3 665 980.3 662 980.3 659 980.3 656 980.3 653 980.3 650 980.2 647 980.2 644 980.2 641 980.2 638 980.2 635 980.2 632 980.2 629 980.1 626 980.1 623 980.1 620 980.1 617 980.1 614 980 611 980 608 980 605 979.9 602 979.9 599 979.8 596 979.7 593 979.6 590 979.5 587 979.4 584 979.3 581 979.2 578 979.1 575 978.9 572 978.8 569 978.7 566 978.5 563 978.4 560 978.3 557 978.2 554 978 551 977.9 548 977.8 545 977.7 542 977.6 539 977.6 536.1 977.6 533.1 977.6 530.1 977.6 527.1 977.7 524.1 977.8 521.1 978 518.1 978.2 515.2 978.5 512.3 978.9 509.4 979.3 506.6 979.8 503.8 980.5 501.1 981.4 498.6 982.4 496.1 983.7 493.7 985.1 491.5 986.8 489.3 988.6 487.3 990.6 485.3 992.7 483.3 994.9 481.4 997.1 479.4 999.4 477.5 1001.7 475.7 1004 473.8 1006.3 471.9 1008.7 470 1011" fill="none" stroke="#b71d2b" stroke-width="6.5" stroke-linejoin="round" stroke-linecap="round" stroke-dasharray="14 17"/>
<line x1="1630" y1="476" x2="1556" y2="577" stroke="#000" stroke-width="4.5"/>
<polygon points="1542,596.5 1547,564.5 1572.5,581.5" fill="#000"/>
<line x1="2160.7" y1="402.3" x2="2176" y2="520" stroke="#000" stroke-width="4.5"/>
<polygon points="2180,547 2159.5,520 2191.5,516" fill="#000"/>
<text x="330" y="1624" font-weight="bold" font-size="141">b</text>
<line x1="397.5" y1="1727" x2="397.5" y2="2597" stroke="#333" stroke-width="3"/>
<line x1="396" y1="2595.5" x2="2376" y2="2595.5" stroke="#222" stroke-width="3"/>
<line x1="397.5" y1="1728.5" x2="426" y2="1728.5" stroke="#333" stroke-width="3"/>
<line x1="397.5" y1="2016" x2="426" y2="2016" stroke="#333" stroke-width="3"/>
<line x1="397.5" y1="2305" x2="426" y2="2305" stroke="#333" stroke-width="3"/>
<line x1="837.5" y1="2595.5" x2="837.5" y2="2567" stroke="#333" stroke-width="3"/>
<line x1="1276.5" y1="2595.5" x2="1276.5" y2="2567" stroke="#333" stroke-width="3"/>
<line x1="1717.5" y1="2595.5" x2="1717.5" y2="2567" stroke="#333" stroke-width="3"/>
<line x1="2156.5" y1="2595.5" x2="2156.5" y2="2567" stroke="#333" stroke-width="3"/>
<text x="314" y="1759" font-size="95" text-anchor="end">600</text>
<text x="314" y="2047" font-size="95" text-anchor="end">400</text>
<text x="314" y="2337" font-size="95" text-anchor="end">200</text>
<text x="314" y="2624" font-size="95" text-anchor="end">0</text>
<text x="397.5" y="2737" font-size="95.5" text-anchor="middle">0</text>
<text x="837" y="2737" font-size="95.5" text-anchor="middle">400</text>
<text x="1276.5" y="2737" font-size="95.5" text-anchor="middle">800</text>
<text x="1718" y="2737" font-size="95.5" text-anchor="middle">1200</text>
<text x="2157" y="2737" font-size="95.5" text-anchor="middle">1600</text>
<text x="1312" y="2862" font-size="94.5" font-weight="bold">t (s)</text>
<text transform="translate(140 2398) rotate(-90)" font-size="97" font-weight="bold">I (A g<tspan font-size="62" dy="-31">-1</tspan><tspan dy="31">(Pt))</tspan></text>
<line x1="681" y1="1814" x2="819" y2="1814" stroke="#000" stroke-width="5"/>
<text x="830" y="1843" font-size="95.5">Pt/C</text>
<path d="M1163 1812.5 L1215 1812.5" stroke="#216b99" stroke-width="6" stroke-linecap="round"/>
<circle cx="1244" cy="1812.5" r="3.2" fill="#216b99"/><circle cx="1278.5" cy="1812.5" r="3.2" fill="#216b99"/>
<text x="1310" y="1842" font-size="95.5">PtCu/C</text>
<path d="M1749 1813.5 L1862 1813.5" stroke="#b71d2b" stroke-width="6" stroke-dasharray="24 4.5"/>
<text x="1900" y="1842" font-size="95.5">Pt/(SnO<tspan font-size="64" dy="18">2</tspan><tspan dy="-18">/C)</tspan></text>
<path d="M399 2175 399.1 2171.8 399.3 2168.6 399.5 2165.4 399.6 2162.3 399.9 2159.1 400.2 2155.9 400.5 2152.8 401 2149.6 401.5 2146.5 402.1 2143.4 402.8 2140.3 403.5 2137.2 404.2 2134.1 405 2131 406.8 2133.4 408.7 2135.8 410.5 2138.1 412.3 2140.5 414.1 2142.9 415.8 2145.4 417.6 2147.8 419.3 2150.3 421 2152.8 422.6 2155.3 424.3 2157.7 426 2160.2 427.8 2162.6 429.5 2165 431.4 2167.4 433.3 2169.7 435.2 2172 437.2 2174.2 439.3 2176.4 441.4 2178.5 443.5 2180.7 445.6 2182.7 447.8 2184.8 450.1 2186.8 452.3 2188.7 454.7 2190.6 457 2192.4 459.5 2194.1 461.9 2195.8 464.4 2197.5 467 2199.1 469.5 2200.6 472.1 2202.2 474.7 2203.7 477.2 2205.3 479.8 2206.8 482.4 2208.3 485 2209.8 487.6 2211.3 490.2 2212.8 492.9 2214.3 495.5 2215.7 498.1 2217.2 500.7 2218.6 503.4 2220 506 2221.4 508.7 2222.8 511.4 2224.1 514.1 2225.3 516.9 2226.6 519.6 2227.7 522.4 2228.9 525.2 2230 528 2231.2 530.7 2232.3 533.5 2233.4 536.3 2234.5 539.1 2235.6 541.9 2236.7 544.7 2237.8 547.5 2238.9 550.3 2239.9 553.1 2241 556 2242 558.8 2242.9 561.7 2243.9 564.5 2244.8 567.4 2245.7 570.3 2246.6 573.1 2247.4 576 2248.3 578.9 2249.2 581.8 2250 584.7 2250.9 587.5 2251.8 590.4 2252.6 593.3 2253.5 596.2 2254.3 599.1 2255.2 601.9 2256 604.8 2256.8 607.7 2257.6 610.6 2258.4 613.5 2259.2 616.4 2259.9 619.3 2260.7 622.2 2261.5 625.1 2262.2 628.1 2263 631 2263.7 633.9 2264.5 636.8 2265.3 639.7 2266 642.6 2266.7 645.5 2267.5 648.4 2268.2 651.3 2268.9 654.3 2269.6 657.2 2270.3 660.1 2270.9 663.1 2271.5 666 2272.2 668.9 2272.8 671.9 2273.4 674.8 2274 677.8 2274.6 680.7 2275.1 683.7 2275.7 686.6 2276.3 689.6 2276.9 692.5 2277.5 695.5 2278.1 698.4 2278.7 701.3 2279.3 704.3 2279.9 707.2 2280.4 710.2 2281 713.1 2281.6 716.1 2282.2 719 2282.8 722 2283.4 724.9 2284 727.9 2284.6 730.8 2285.2 733.7 2285.7 736.7 2286.3 739.6 2286.9 742.6 2287.5 745.5 2288.1 748.5 2288.6 751.4 2289.2 754.4 2289.7 757.4 2290.2 760.3 2290.7 763.3 2291.2 766.2 2291.7 769.2 2292.1 772.2 2292.6 775.2 2293.1 778.1 2293.5 781.1 2294 784.1 2294.4 787 2294.9 790 2295.3 793 2295.8 795.9 2296.2 798.9 2296.7 801.9 2297.1 804.9 2297.6 807.8 2298 810.8 2298.5 813.8 2298.9 816.7 2299.4 819.7 2299.8 822.7 2300.3 825.6 2300.7 828.6 2301.2 831.6 2301.6 834.6 2302.1 837.5 2302.5 840.5 2303 843.5 2303.4 846.4 2303.9 849.4 2304.3 852.4 2304.8 855.3 2305.2 858.3 2305.7 861.3 2306.1 864.3 2306.6 867.2 2307.1 870.2 2307.5 873.2 2308 876.1 2308.4 879.1 2308.9 882.1 2309.3 885 2309.8 888 2310.2 891 2310.6 894 2311.1 896.9 2311.5 899.9 2312 902.9 2312.4 905.8 2312.9 908.8 2313.3 911.8 2313.8 914.8 2314.2 917.7 2314.7 920.7 2315.1 923.7 2315.6 926.6 2316 929.6 2316.4 932.6 2316.9 935.6 2317.3 938.5 2317.8 941.5 2318.2 944.5 2318.7 947.4 2319.1 950.4 2319.6 953.4 2320 956.4 2320.5 959.3 2320.9 962.3 2321.3 965.3 2321.8 968.2 2322.2 971.2 2322.6 974.2 2323.1 977.2 2323.5 980.1 2323.9 983.1 2324.2 986.1 2324.6 989.1 2325 992.1 2325.3 995.1 2325.6 998 2326 1001 2326.3 1004 2326.6 1007 2327 1010 2327.3 1013 2327.6 1016 2328 1018.9 2328.3 1021.9 2328.6 1024.9 2328.9 1027.9 2329.3 1030.9 2329.6 1033.9 2329.9 1036.9 2330.3 1039.8 2330.6 1042.8 2330.9 1045.8 2331.2 1048.8 2331.6 1051.8 2331.9 1054.8 2332.2 1057.8 2332.6 1060.7 2332.9 1063.7 2333.2 1066.7 2333.5 1069.7 2333.9 1072.7 2334.2 1075.7 2334.5 1078.7 2334.8 1081.7 2335.1 1084.6 2335.4 1087.6 2335.8 1090.6 2336.1 1093.6 2336.4 1096.6 2336.7 1099.6 2337 1102.6 2337.3 1105.6 2337.6 1108.6 2337.9 1111.5 2338.2 1114.5 2338.5 1117.5 2338.8 1120.5 2339.1 1123.5 2339.4 1126.5 2339.6 1129.5 2339.9 1132.5 2340.2 1135.5 2340.5 1138.4 2340.8 1141.4 2341.1 1144.4 2341.4 1147.4 2341.7 1150.4 2342 1153.4 2342.3 1156.4 2342.6 1159.4 2342.9 1162.4 2343.2 1165.4 2343.5 1168.3 2343.8 1171.3 2344.1 1174.3 2344.4 1177.3 2344.7 1180.3 2344.9 1183.3 2345.2 1186.3 2345.4 1189.3 2345.7 1192.3 2345.9 1195.3 2346.1 1198.3 2346.4 1201.3 2346.6 1204.3 2346.8 1207.3 2347 1210.3 2347.3 1213.3 2347.5 1216.2 2347.7 1219.2 2347.9 1222.2 2348.2 1225.2 2348.4 1228.2 2348.6 1231.2 2348.8 1234.2 2349.1 1237.2 2349.3 1240.2 2349.5 1243.2 2349.7 1246.2 2350 1249.2 2350.2 1252.2 2350.4 1255.2 2350.6 1258.2 2350.9 1261.2 2351.1 1264.2 2351.3 1267.2 2351.5 1270.2 2351.8 1273.2 2352 1276.2 2352.2 1279.2 2352.4 1282.2 2352.7 1285.2 2352.9 1288.1 2353.1 1291.1 2353.3 1294.1 2353.6 1297.1 2353.8 1300.1 2354 1303.1 2354.2 1306.1 2354.5 1309.1 2354.7 1312.1 2354.9 1315.1 2355.1 1318.1 2355.4 1321.1 2355.6 1324.1 2355.8 1327.1 2356 1330.1 2356.3 1333.1 2356.5 1336.1 2356.7 1339.1 2356.9 1342.1 2357.2 1345.1 2357.4 1348.1 2357.6 1351.1 2357.8 1354.1 2358.1 1357.1 2358.3 1360 2358.5 1363 2358.7 1366 2358.9 1369 2359.2 1372 2359.4 1375 2359.6 1378 2359.8 1381 2360 1384 2360.2 1387 2360.4 1390 2360.6 1393 2360.8 1396 2361 1399 2361.2 1402 2361.4 1405 2361.6 1408 2361.8 1411 2362 1414 2362.2 1417 2362.4 1420 2362.6 1423 2362.8 1426 2363 1429 2363.2 1432 2363.4 1435 2363.6 1438 2363.8 1441 2364 1444 2364.2 1447 2364.4 1450 2364.5 1453 2364.7 1456 2364.9 1459 2365.1 1462 2365.3 1465 2365.5 1468 2365.7 1471 2365.9 1474 2366.1 1477 2366.3 1479.9 2366.5 1482.9 2366.6 1485.9 2366.8 1488.9 2367 1491.9 2367.2 1494.9 2367.3 1497.9 2367.5 1500.9 2367.7 1503.9 2367.8 1506.9 2368 1509.9 2368.1 1512.9 2368.3 1515.9 2368.5 1518.9 2368.6 1521.9 2368.8 1524.9 2369 1527.9 2369.1 1530.9 2369.3 1533.9 2369.5 1536.9 2369.6 1539.9 2369.8 1542.9 2370 1545.9 2370.1 1548.9 2370.3 1551.9 2370.5 1554.9 2370.6 1557.9 2370.8 1560.9 2371 1563.9 2371.1 1566.9 2371.3 1569.9 2371.5 1572.9 2371.6 1575.9 2371.8 1578.9 2372 1581.9 2372.2 1584.9 2372.4 1587.9 2372.5 1590.9 2372.7 1593.9 2372.9 1596.9 2373.1 1599.9 2373.3 1602.9 2373.5 1605.9 2373.7 1608.9 2373.9 1611.9 2374.1 1614.9 2374.3 1617.9 2374.5 1620.9 2374.7 1623.9 2374.9 1626.9 2375.1 1629.9 2375.3 1632.9 2375.5 1635.9 2375.7 1638.9 2375.9 1641.9 2376.1 1644.9 2376.3 1647.9 2376.5 1650.9 2376.7 1653.9 2376.9 1656.9 2377.1 1659.9 2377.3 1662.9 2377.5 1665.9 2377.7 1668.9 2377.9 1671.9 2378.1 1674.9 2378.3 1677.9 2378.5 1680.9 2378.7 1683.9 2378.9 1686.8 2379.1 1689.8 2379.3 1692.8 2379.5 1695.8 2379.7 1698.8 2379.9 1701.8 2380.1 1704.8 2380.3 1707.8 2380.5 1710.8 2380.7 1713.8 2380.9 1716.8 2381.1 1719.8 2381.3 1722.8 2381.5 1725.8 2381.7 1728.8 2381.9 1731.8 2382.1 1734.8 2382.3 1737.8 2382.5 1740.8 2382.7 1743.8 2382.9 1746.8 2383.1 1749.8 2383.3 1752.8 2383.5 1755.8 2383.7 1758.8 2383.9 1761.8 2384.1 1764.8 2384.2 1767.8 2384.4 1770.8 2384.6 1773.8 2384.8 1776.8 2384.9 1779.8 2385.1 1782.8 2385.3 1785.8 2385.4 1788.8 2385.6 1791.8 2385.7 1794.8 2385.9 1797.8 2386.1 1800.8 2386.2 1803.8 2386.4 1806.8 2386.6 1809.8 2386.7 1812.8 2386.9 1815.8 2387.1 1818.8 2387.2 1821.8 2387.4 1824.8 2387.6 1827.8 2387.7 1830.8 2387.9 1833.8 2388.1 1836.8 2388.2 1839.8 2388.4 1842.8 2388.6 1845.8 2388.7 1848.8 2388.9 1851.8 2389 1854.8 2389.2 1857.8 2389.4 1860.8 2389.5 1863.8 2389.7 1866.8 2389.9 1869.8 2390 1872.8 2390.2 1875.8 2390.4 1878.8 2390.5 1881.8 2390.7 1884.8 2390.9 1887.8 2391 1890.8 2391.2 1893.8 2391.4 1896.8 2391.5 1899.8 2391.7 1902.8 2391.9 1905.8 2392 1908.8 2392.2 1911.8 2392.3 1914.8 2392.5 1917.8 2392.7 1920.8 2392.8 1923.8 2393 1926.8 2393.2 1929.8 2393.3 1932.8 2393.5 1935.8 2393.7 1938.8 2393.8 1941.8 2394 1944.8 2394.2 1947.8 2394.3 1950.8 2394.5 1953.8 2394.6 1956.8 2394.8 1959.8 2394.9 1962.8 2395.1 1965.8 2395.2 1968.8 2395.4 1971.8 2395.5 1974.8 2395.7 1977.8 2395.8 1980.8 2395.9 1983.8 2396.1 1986.8 2396.2 1989.8 2396.3 1992.8 2396.5 1995.8 2396.6 1998.8 2396.7 2001.8 2396.9 2004.8 2397 2007.8 2397.2 2010.8 2397.3 2013.8 2397.4 2016.8 2397.6 2019.8 2397.7 2022.8 2397.8 2025.8 2398 2028.8 2398.1 2031.8 2398.2 2034.8 2398.4 2037.8 2398.5 2040.8 2398.6 2043.8 2398.8 2046.8 2398.9 2049.8 2399 2052.8 2399.2 2055.8 2399.3 2058.8 2399.4 2061.8 2399.6 2064.8 2399.7 2067.8 2399.9 2070.8 2400 2073.8 2400.1 2076.8 2400.3 2079.8 2400.4 2082.8 2400.5 2085.8 2400.7 2088.8 2400.8 2091.8 2400.9 2094.8 2401.1 2097.8 2401.2 2100.8 2401.3 2103.8 2401.5 2106.8 2401.6 2109.8 2401.7 2112.8 2401.9 2115.8 2402 2118.8 2402.1 2121.8 2402.3 2124.8 2402.4 2127.8 2402.6 2130.8 2402.7 2133.8 2402.8 2136.8 2403 2139.8 2403.1 2142.8 2403.2 2145.8 2403.4 2148.8 2403.5 2151.8 2403.6 2154.8 2403.8 2157.8 2403.9 2160.8 2404 2163.8 2404.1 2166.8 2404.2 2169.9 2404.4 2172.9 2404.5 2175.9 2404.6 2178.9 2404.7 2181.9 2404.8 2184.9 2404.9 2187.9 2405 2190.9 2405.1 2193.9 2405.2 2196.9 2405.4 2199.9 2405.5 2202.9 2405.6 2205.9 2405.7 2208.9 2405.8 2211.9 2405.9 2214.9 2406 2217.9 2406.1 2220.9 2406.2 2223.9 2406.4 2226.9 2406.5 2229.9 2406.6 2232.9 2406.7 2235.9 2406.8 2238.9 2406.9 2241.9 2407 2244.9 2407.1 2247.9 2407.2 2250.9 2407.4 2253.9 2407.5 2256.9 2407.6 2259.9 2407.7 2262.9 2407.8 2265.9 2407.9 2268.9 2408 2271.9 2408.1 2274.9 2408.2 2277.9 2408.3 2280.9 2408.5 2283.9 2408.6 2286.9 2408.7 2289.9 2408.8 2292.9 2408.9 2295.9 2409 2298.9 2409.1 2301.9 2409.2 2304.9 2409.3 2308 2409.5 2311 2409.6 2314 2409.7 2317 2409.8 2320 2409.9 2323 2410 2326 2410.1 2329 2410.2 2332 2410.3 2335 2410.5 2338 2410.6 2341 2410.7 2344 2410.8 2347 2410.9 2350 2411 2353 2411.1 2356 2411.2 2359 2411.3 2362 2411.4 2365 2411.6 2368 2411.7 2371 2411.8 2374 2411.9 2377 2412" fill="none" stroke="#000" stroke-width="5.5" stroke-linejoin="round" stroke-linecap="round"/>
<path d="M399 2007 399.1 2004 399.1 2001 399.2 1998 399.2 1995 399.3 1991.9 399.4 1988.9 399.4 1985.9 399.5 1982.9 399.6 1979.9 399.6 1976.9 399.7 1973.9 399.9 1970.9 400.1 1968 400.4 1965 400.8 1962.1 401.4 1959.2 402.1 1956.4 403 1953.6 404 1950.8 405.1 1948.1 406.4 1945.4 407.7 1942.7 409 1940 411.4 1941.7 413.9 1943.5 416.3 1945.2 418.8 1947 421.2 1948.8 423.6 1950.5 426 1952.3 428.4 1954.1 430.8 1955.9 433.2 1957.7 435.6 1959.6 438 1961.4 440.3 1963.3 442.7 1965.2 445 1967 447.4 1968.9 449.7 1970.8 452.1 1972.6 454.4 1974.5 456.7 1976.4 459.1 1978.3 461.4 1980.1 463.8 1982 466.1 1983.9 468.5 1985.8 470.9 1987.6 473.2 1989.4 475.6 1991.3 478 1993 480.5 1994.8 482.9 1996.5 485.4 1998.2 487.9 1999.9 490.4 2001.6 492.9 2003.2 495.4 2004.8 497.9 2006.5 500.5 2008.1 503 2009.7 505.5 2011.3 508 2012.9 510.6 2014.6 513.1 2016.2 515.6 2017.8 518.2 2019.4 520.7 2021 523.3 2022.5 525.9 2024 528.5 2025.5 531.1 2027 533.8 2028.4 536.4 2029.7 539.1 2031.1 541.8 2032.4 544.5 2033.6 547.2 2034.9 550 2036.2 552.7 2037.4 555.4 2038.7 558.2 2039.9 560.9 2041.2 563.6 2042.4 566.3 2043.7 569.1 2044.9 571.8 2046.1 574.6 2047.3 577.4 2048.5 580.1 2049.6 582.9 2050.7 585.7 2051.8 588.5 2052.8 591.4 2053.8 594.2 2054.8 597 2055.8 599.9 2056.8 602.7 2057.7 605.6 2058.7 608.4 2059.7 611.3 2060.6 614.1 2061.6 616.9 2062.6 619.8 2063.5 622.6 2064.5 625.5 2065.5 628.3 2066.5 631.1 2067.5 634 2068.5 636.8 2069.5 639.6 2070.5 642.5 2071.5 645.3 2072.5 648.1 2073.5 650.9 2074.5 653.8 2075.6 656.6 2076.6 659.4 2077.6 662.2 2078.6 665.1 2079.6 667.9 2080.6 670.7 2081.6 673.6 2082.5 676.4 2083.4 679.3 2084.3 682.2 2085.2 685.1 2086 688 2086.8 690.9 2087.5 693.8 2088.3 696.7 2089 699.6 2089.7 702.5 2090.4 705.4 2091.1 708.4 2091.8 711.3 2092.5 714.2 2093.2 717.1 2093.9 720 2094.6 723 2095.3 725.9 2096 728.8 2096.6 731.7 2097.3 734.7 2098 737.6 2098.6 740.5 2099.3 743.5 2100 746.4 2100.6 749.3 2101.3 752.3 2101.9 755.2 2102.5 758.1 2103.2 761.1 2103.8 764 2104.5 766.9 2105.1 769.9 2105.8 772.8 2106.4 775.7 2107.1 778.7 2107.7 781.6 2108.4 784.5 2109 787.5 2109.6 790.4 2110.3 793.3 2110.9 796.3 2111.6 799.2 2112.2 802.1 2112.9 805.1 2113.5 808 2114.2 810.9 2114.8 813.9 2115.4 816.8 2116.1 819.7 2116.7 822.7 2117.4 825.6 2118 828.5 2118.7 831.5 2119.3 834.4 2120 837.3 2120.6 840.3 2121.3 843.2 2121.9 846.1 2122.5 849.1 2123.2 852 2123.8 854.9 2124.5 857.9 2125.1 860.8 2125.8 863.7 2126.4 866.7 2127 869.6 2127.7 872.5 2128.3 875.5 2128.9 878.4 2129.5 881.4 2130.1 884.3 2130.6 887.3 2131.2 890.2 2131.7 893.2 2132.2 896.1 2132.7 899.1 2133.2 902.1 2133.7 905 2134.3 908 2134.8 910.9 2135.3 913.9 2135.8 916.9 2136.3 919.8 2136.8 922.8 2137.3 925.7 2137.8 928.7 2138.3 931.7 2138.8 934.6 2139.3 937.6 2139.8 940.5 2140.3 943.5 2140.8 946.5 2141.3 949.4 2141.8 952.4 2142.3 955.3 2142.8 958.3 2143.3 961.3 2143.8 964.2 2144.3 967.2 2144.8 970.1 2145.3 973.1 2145.8 976.1 2146.4 979 2146.9 982 2147.4 984.9 2147.9 987.9 2148.4 990.9 2149 993.8 2149.5 996.8 2150 999.7 2150.6 1002.7 2151.1 1005.6 2151.6 1008.6 2152.1 1011.5 2152.7 1014.5 2153.2 1017.5 2153.7 1020.4 2154.3 1023.4 2154.8 1026.3 2155.3 1029.3 2155.9 1032.2 2156.4 1035.2 2156.9 1038.1 2157.5 1041.1 2158 1044.1 2158.5 1047 2159.1 1050 2159.6 1052.9 2160.1 1055.9 2160.7 1058.8 2161.2 1061.8 2161.7 1064.7 2162.2 1067.7 2162.8 1070.7 2163.3 1073.6 2163.8 1076.6 2164.2 1079.6 2164.7 1082.5 2165.1 1085.5 2165.6 1088.5 2166 1091.5 2166.3 1094.4 2166.7 1097.4 2167.1 1100.4 2167.4 1103.4 2167.8 1106.4 2168.2 1109.3 2168.5 1112.3 2168.9 1115.3 2169.2 1118.3 2169.6 1121.3 2170 1124.2 2170.3 1127.2 2170.7 1130.2 2171 1133.2 2171.4 1136.2 2171.7 1139.2 2172.1 1142.1 2172.5 1145.1 2172.8 1148.1 2173.2 1151.1 2173.5 1154.1 2173.9 1157 2174.2 1160 2174.6 1163 2175 1166 2175.3 1169 2175.7 1171.9 2176.1 1174.9 2176.4 1177.9 2176.8 1180.9 2177.2 1183.9 2177.6 1186.8 2178.1 1189.8 2178.5 1192.8 2178.9 1195.7 2179.4 1198.7 2179.8 1201.7 2180.3 1204.7 2180.7 1207.6 2181.1 1210.6 2181.6 1213.6 2182 1216.5 2182.5 1219.5 2182.9 1222.5 2183.4 1225.4 2183.8 1228.4 2184.3 1231.4 2184.7 1234.4 2185.2 1237.3 2185.6 1240.3 2186 1243.3 2186.5 1246.2 2186.9 1249.2 2187.4 1252.2 2187.8 1255.1 2188.3 1258.1 2188.7 1261.1 2189.2 1264.1 2189.6 1267 2190 1270 2190.5 1273 2190.9 1275.9 2191.3 1278.9 2191.7 1281.9 2192 1284.9 2192.4 1287.9 2192.7 1290.9 2193.1 1293.8 2193.4 1296.8 2193.7 1299.8 2194 1302.8 2194.3 1305.8 2194.6 1308.8 2194.9 1311.8 2195.2 1314.8 2195.5 1317.7 2195.8 1320.7 2196.1 1323.7 2196.4 1326.7 2196.7 1329.7 2197 1332.7 2197.3 1335.7 2197.6 1338.7 2197.9 1341.6 2198.2 1344.6 2198.5 1347.6 2198.8 1350.6 2199.1 1353.6 2199.4 1356.6 2199.7 1359.6 2200 1362.6 2200.3 1365.6 2200.6 1368.5 2200.9 1371.5 2201.2 1374.5 2201.5 1377.5 2201.8 1380.5 2202 1383.5 2202.3 1386.5 2202.6 1389.5 2202.9 1392.5 2203.2 1395.4 2203.5 1398.4 2203.8 1401.4 2204.1 1404.4 2204.4 1407.4 2204.7 1410.4 2205 1413.4 2205.3 1416.4 2205.6 1419.3 2205.9 1422.3 2206.2 1425.3 2206.5 1428.3 2206.8 1431.3 2207.1 1434.3 2207.4 1437.3 2207.7 1440.3 2208 1443.3 2208.3 1446.2 2208.6 1449.2 2208.9 1452.2 2209.2 1455.2 2209.5 1458.2 2209.8 1461.2 2210.1 1464.2 2210.4 1467.2 2210.7 1470.1 2211 1473.1 2211.3 1476.1 2211.7 1479.1 2212 1482.1 2212.3 1485.1 2212.6 1488.1 2213 1491 2213.3 1494 2213.7 1497 2214 1500 2214.4 1503 2214.7 1506 2215.1 1508.9 2215.4 1511.9 2215.8 1514.9 2216.1 1517.9 2216.5 1520.9 2216.8 1523.9 2217.2 1526.8 2217.5 1529.8 2217.9 1532.8 2218.2 1535.8 2218.6 1538.8 2218.9 1541.7 2219.3 1544.7 2219.6 1547.7 2220 1550.7 2220.3 1553.7 2220.7 1556.7 2221 1559.6 2221.3 1562.6 2221.7 1565.6 2222 1568.6 2222.3 1571.6 2222.7 1574.6 2223 1577.6 2223.3 1580.5 2223.6 1583.5 2223.9 1586.5 2224.3 1589.5 2224.6 1592.5 2224.9 1595.5 2225.2 1598.5 2225.5 1601.4 2225.8 1604.4 2226.2 1607.4 2226.5 1610.4 2226.8 1613.4 2227.1 1616.4 2227.4 1619.4 2227.7 1622.4 2228 1625.3 2228.4 1628.3 2228.7 1631.3 2229 1634.3 2229.3 1637.3 2229.6 1640.3 2229.9 1643.3 2230.2 1646.2 2230.6 1649.2 2230.9 1652.2 2231.2 1655.2 2231.5 1658.2 2231.8 1661.2 2232.1 1664.2 2232.4 1667.2 2232.7 1670.1 2233 1673.1 2233.3 1676.1 2233.6 1679.1 2233.9 1682.1 2234.2 1685.1 2234.5 1688.1 2234.8 1691.1 2235.1 1694.1 2235.4 1697 2235.7 1700 2236 1703 2236.3 1706 2236.6 1709 2236.9 1712 2237.2 1715 2237.5 1718 2237.8 1720.9 2238.1 1723.9 2238.4 1726.9 2238.7 1729.9 2239 1732.9 2239.3 1735.9 2239.6 1738.9 2239.9 1741.9 2240.2 1744.9 2240.5 1747.8 2240.8 1750.8 2241.1 1753.8 2241.3 1756.8 2241.6 1759.8 2241.9 1762.8 2242.2 1765.8 2242.4 1768.8 2242.7 1771.8 2242.9 1774.8 2243.2 1777.8 2243.4 1780.7 2243.7 1783.7 2243.9 1786.7 2244.1 1789.7 2244.4 1792.7 2244.6 1795.7 2244.9 1798.7 2245.1 1801.7 2245.3 1804.7 2245.6 1807.7 2245.8 1810.7 2246.1 1813.7 2246.3 1816.7 2246.5 1819.7 2246.8 1822.7 2247 1825.7 2247.3 1828.6 2247.5 1831.6 2247.7 1834.6 2248 1837.6 2248.2 1840.6 2248.4 1843.6 2248.7 1846.6 2248.9 1849.6 2249.2 1852.6 2249.4 1855.6 2249.6 1858.6 2249.9 1861.6 2250.1 1864.6 2250.3 1867.6 2250.5 1870.6 2250.7 1873.6 2250.9 1876.6 2251.2 1879.6 2251.4 1882.5 2251.6 1885.5 2251.8 1888.5 2252 1891.5 2252.2 1894.5 2252.4 1897.5 2252.6 1900.5 2252.8 1903.5 2253 1906.5 2253.3 1909.5 2253.5 1912.5 2253.7 1915.5 2253.9 1918.5 2254.1 1921.5 2254.3 1924.5 2254.5 1927.5 2254.7 1930.5 2254.9 1933.5 2255.1 1936.5 2255.4 1939.5 2255.6 1942.5 2255.8 1945.5 2256 1948.5 2256.2 1951.5 2256.4 1954.4 2256.6 1957.4 2256.8 1960.4 2257 1963.4 2257.2 1966.4 2257.5 1969.4 2257.7 1972.4 2257.9 1975.4 2258.1 1978.4 2258.3 1981.4 2258.5 1984.4 2258.7 1987.4 2258.9 1990.4 2259.1 1993.4 2259.3 1996.4 2259.5 1999.4 2259.8 2002.4 2260 2005.4 2260.2 2008.4 2260.4 2011.4 2260.6 2014.4 2260.8 2017.4 2261 2020.4 2261.2 2023.4 2261.4 2026.3 2261.6 2029.3 2261.9 2032.3 2262.1 2035.3 2262.3 2038.3 2262.5 2041.3 2262.7 2044.3 2262.9 2047.3 2263.1 2050.3 2263.3 2053.3 2263.5 2056.3 2263.7 2059.3 2263.9 2062.3 2264.1 2065.3 2264.3 2068.3 2264.5 2071.3 2264.7 2074.3 2264.9 2077.3 2265 2080.3 2265.2 2083.3 2265.4 2086.3 2265.6 2089.3 2265.8 2092.3 2265.9 2095.3 2266.1 2098.3 2266.3 2101.3 2266.5 2104.3 2266.7 2107.3 2266.8 2110.3 2267 2113.3 2267.2 2116.3 2267.4 2119.3 2267.6 2122.3 2267.7 2125.3 2267.9 2128.2 2268.1 2131.2 2268.3 2134.2 2268.5 2137.2 2268.6 2140.2 2268.8 2143.2 2269 2146.2 2269.2 2149.2 2269.4 2152.2 2269.5 2155.2 2269.7 2158.2 2269.9 2161.2 2270.1 2164.2 2270.3 2167.2 2270.5 2170.2 2270.7 2173.2 2270.9 2176.2 2271.1 2179.2 2271.3 2182.2 2271.6 2185.2 2271.8 2188.2 2272 2191.2 2272.2 2194.2 2272.4 2197.2 2272.6 2200.2 2272.8 2203.2 2273 2206.2 2273.2 2209.2 2273.4 2212.2 2273.7 2215.1 2273.9 2218.1 2274.1 2221.1 2274.3 2224.1 2274.5 2227.1 2274.7 2230.1 2274.9 2233.1 2275.1 2236.1 2275.3 2239.1 2275.5 2242.1 2275.7 2245.1 2276 2248.1 2276.2 2251.1 2276.4 2254.1 2276.6 2257.1 2276.8 2260.1 2277 2263.1 2277.2 2266.1 2277.3 2269.1 2277.5 2272.1 2277.7 2275.1 2277.9 2278.1 2278.1 2281.1 2278.3 2284.1 2278.4 2287.1 2278.6 2290.1 2278.8 2293.1 2279 2296.1 2279.2 2299.1 2279.3 2302.1 2279.5 2305.1 2279.7 2308.1 2279.9 2311 2280.1 2314 2280.2 2317 2280.4 2320 2280.6 2323 2280.8 2326 2281 2329 2281.1 2332 2281.3 2335 2281.5 2338 2281.7 2341 2281.8 2344 2282 2347 2282.2 2350 2282.4 2353 2282.6 2356 2282.7 2359 2282.9 2362 2283.1 2365 2283.3 2368 2283.5 2371 2283.6 2374 2283.8 2377 2284" fill="none" stroke="#b71d2b" stroke-width="6.5" stroke-linejoin="round" stroke-linecap="round" stroke-dasharray="12 16"/>
<path d="M399.5 1834 399.5 1831 399.5 1828 399.5 1825 399.5 1822 399.5 1819 399.5 1816 399.5 1813 399.5 1810 399.5 1807 399.5 1804 399.5 1801 399.6 1798 399.6 1795 399.8 1792 400 1789 400.3 1786.1 400.8 1783.2 401.4 1780.4 402.2 1777.6 403.1 1774.8 404.2 1772.1 405.4 1769.4 406.7 1766.7 408 1764 409.6 1766.6 411.2 1769.1 412.7 1771.7 414.3 1774.2 415.9 1776.8 417.5 1779.3 419.2 1781.8 420.8 1784.3 422.6 1786.7 424.4 1789.1 426.2 1791.4 428.1 1793.8 430.1 1796 432 1798.2 434.1 1800.4 436.1 1802.6 438.2 1804.8 440.3 1806.9 442.5 1809 444.6 1811.1 446.8 1813.2 449 1815.2 451.2 1817.2 453.5 1819.2 455.7 1821.2 457.9 1823.2 460.2 1825.2 462.4 1827.2 464.7 1829.2 467 1831.2 469.2 1833.1 471.5 1835.1 473.7 1837.1 476 1839 478.3 1841 480.6 1842.9 482.9 1844.8 485.3 1846.7 487.6 1848.5 490 1850.3 492.4 1852.1 494.9 1853.9 497.3 1855.6 499.7 1857.4 502.2 1859.1 504.7 1860.8 507.2 1862.4 509.7 1864.1 512.2 1865.7 514.8 1867.3 517.3 1868.9 519.9 1870.5 522.4 1872 525 1873.5 527.6 1875 530.2 1876.5 532.9 1877.9 535.5 1879.3 538.2 1880.7 540.9 1882 543.6 1883.3 546.3 1884.6 549 1885.9 551.7 1887.2 554.4 1888.5 557.1 1889.8 559.8 1891.1 562.5 1892.5 565.2 1893.8 567.8 1895.2 570.5 1896.6 573.2 1898 575.8 1899.4 578.5 1900.8 581.1 1902.2 583.8 1903.6 586.4 1905 589.1 1906.4 591.7 1907.8 594.4 1909.2 597.1 1910.6 599.7 1912 602.4 1913.3 605.1 1914.6 607.8 1915.9 610.5 1917.2 613.3 1918.4 616 1919.5 618.8 1920.7 621.6 1921.8 624.4 1922.9 627.2 1924 630 1925 632.8 1926.1 635.6 1927.2 638.4 1928.2 641.2 1929.3 644.1 1930.3 646.9 1931.4 649.7 1932.4 652.5 1933.5 655.3 1934.5 658.1 1935.5 661 1936.6 663.8 1937.6 666.6 1938.6 669.4 1939.6 672.3 1940.7 675.1 1941.7 677.9 1942.7 680.7 1943.7 683.6 1944.7 686.4 1945.8 689.2 1946.8 692 1947.8 694.8 1948.9 697.6 1949.9 700.4 1951 703.3 1952 706.1 1953.1 708.9 1954.2 711.7 1955.2 714.5 1956.3 717.3 1957.4 720.1 1958.4 722.9 1959.5 725.7 1960.6 728.5 1961.6 731.3 1962.7 734.1 1963.7 737 1964.8 739.8 1965.8 742.6 1966.9 745.4 1967.9 748.2 1968.9 751.1 1969.9 753.9 1970.9 756.7 1971.9 759.6 1972.9 762.4 1973.9 765.2 1974.8 768.1 1975.8 771 1976.7 773.8 1977.6 776.7 1978.4 779.6 1979.3 782.5 1980.1 785.4 1980.9 788.2 1981.7 791.1 1982.5 794 1983.3 796.9 1984.1 799.8 1984.8 802.8 1985.6 805.7 1986.3 808.6 1987 811.5 1987.7 814.4 1988.5 817.3 1989.2 820.2 1989.9 823.1 1990.7 826.1 1991.4 829 1992.2 831.9 1993 834.8 1993.8 837.6 1994.6 840.5 1995.4 843.4 1996.2 846.3 1997 849.2 1997.8 852.1 1998.6 855 1999.4 857.9 2000.2 860.8 2001 863.7 2001.8 866.6 2002.6 869.5 2003.4 872.4 2004.1 875.3 2004.9 878.2 2005.6 881.1 2006.3 884 2007 887 2007.7 889.9 2008.4 892.8 2009.1 895.7 2009.8 898.7 2010.4 901.6 2011.1 904.5 2011.8 907.4 2012.5 910.4 2013.1 913.3 2013.8 916.2 2014.5 919.1 2015.1 922.1 2015.8 925 2016.5 927.9 2017.2 930.8 2017.8 933.8 2018.5 936.7 2019.2 939.6 2019.9 942.6 2020.5 945.5 2021.2 948.4 2021.9 951.3 2022.5 954.3 2023.2 957.2 2023.9 960.1 2024.5 963 2025.2 966 2025.9 968.9 2026.5 971.8 2027.2 974.8 2027.8 977.7 2028.5 980.6 2029.1 983.6 2029.7 986.5 2030.4 989.4 2031 992.4 2031.7 995.3 2032.3 998.2 2033 1001.2 2033.6 1004.1 2034.2 1007 2034.8 1010 2035.4 1012.9 2036 1015.9 2036.6 1018.8 2037.2 1021.8 2037.7 1024.7 2038.3 1027.7 2038.8 1030.6 2039.4 1033.6 2039.9 1036.5 2040.5 1039.5 2041 1042.4 2041.5 1045.4 2042.1 1048.4 2042.6 1051.3 2043.1 1054.3 2043.7 1057.2 2044.2 1060.2 2044.8 1063.1 2045.3 1066.1 2045.8 1069 2046.4 1072 2046.9 1074.9 2047.4 1077.9 2048 1080.8 2048.5 1083.8 2049.1 1086.8 2049.6 1089.7 2050.1 1092.7 2050.7 1095.6 2051.2 1098.6 2051.7 1101.5 2052.2 1104.5 2052.8 1107.5 2053.3 1110.4 2053.8 1113.4 2054.3 1116.3 2054.8 1119.3 2055.3 1122.2 2055.8 1125.2 2056.4 1128.2 2056.9 1131.1 2057.4 1134.1 2057.9 1137 2058.4 1140 2058.9 1143 2059.4 1145.9 2060 1148.9 2060.5 1151.8 2061 1154.8 2061.5 1157.7 2062.1 1160.7 2062.6 1163.6 2063.1 1166.6 2063.7 1169.6 2064.2 1172.5 2064.7 1175.5 2065.3 1178.4 2065.8 1181.4 2066.3 1184.3 2066.9 1187.3 2067.4 1190.2 2068 1193.2 2068.5 1196.1 2069 1199.1 2069.6 1202.1 2070.1 1205 2070.6 1208 2071.2 1210.9 2071.7 1213.9 2072.2 1216.8 2072.8 1219.8 2073.3 1222.7 2073.9 1225.7 2074.4 1228.6 2074.9 1231.6 2075.4 1234.6 2075.9 1237.5 2076.4 1240.5 2076.8 1243.5 2077.2 1246.4 2077.6 1249.4 2078 1252.4 2078.4 1255.4 2078.8 1258.4 2079.1 1261.3 2079.5 1264.3 2079.8 1267.3 2080.2 1270.3 2080.5 1273.3 2080.8 1276.3 2081.2 1279.2 2081.5 1282.2 2081.9 1285.2 2082.3 1288.2 2082.7 1291.2 2083.1 1294.1 2083.5 1297.1 2083.9 1300.1 2084.3 1303 2084.8 1306 2085.2 1309 2085.7 1311.9 2086.2 1314.9 2086.6 1317.9 2087.1 1320.8 2087.6 1323.8 2088.1 1326.8 2088.5 1329.7 2089 1332.7 2089.5 1335.7 2089.9 1338.6 2090.4 1341.6 2090.9 1344.6 2091.4 1347.5 2091.8 1350.5 2092.3 1353.5 2092.8 1356.4 2093.2 1359.4 2093.7 1362.3 2094.2 1365.3 2094.7 1368.3 2095.1 1371.2 2095.6 1374.2 2096.1 1377.2 2096.6 1380.1 2097 1383.1 2097.5 1386.1 2098 1389 2098.4 1392 2098.9 1395 2099.4 1397.9 2099.9 1400.9 2100.3 1403.9 2100.8 1406.8 2101.3 1409.8 2101.8 1412.8 2102.2 1415.7 2102.7 1418.7 2103.2 1421.7 2103.6 1424.6 2104.1 1427.6 2104.5 1430.6 2104.9 1433.6 2105.3 1436.5 2105.7 1439.5 2106 1442.5 2106.4 1445.5 2106.7 1448.5 2107 1451.4 2107.4 1454.4 2107.7 1457.4 2108 1460.4 2108.4 1463.4 2108.7 1466.4 2109 1469.3 2109.4 1472.3 2109.7 1475.3 2110 1478.3 2110.4 1481.3 2110.7 1484.3 2111 1487.3 2111.4 1490.2 2111.7 1493.2 2112 1496.2 2112.4 1499.2 2112.7 1502.2 2113 1505.2 2113.4 1508.1 2113.7 1511.1 2114.1 1514.1 2114.4 1517.1 2114.8 1520 2115.2 1523 2115.7 1526 2116.1 1529 2116.6 1531.9 2117.1 1534.9 2117.6 1537.8 2118.1 1540.8 2118.6 1543.8 2119.1 1546.7 2119.6 1549.7 2120.1 1552.6 2120.6 1555.6 2121.2 1558.5 2121.7 1561.5 2122.1 1564.5 2122.6 1567.4 2123.1 1570.4 2123.6 1573.4 2124 1576.3 2124.4 1579.3 2124.9 1582.3 2125.2 1585.3 2125.6 1588.2 2126 1591.2 2126.4 1594.2 2126.8 1597.2 2127.1 1600.2 2127.5 1603.1 2127.9 1606.1 2128.3 1609.1 2128.6 1612.1 2129 1615.1 2129.4 1618 2129.8 1621 2130.1 1624 2130.5 1627 2130.9 1630 2131.2 1632.9 2131.6 1635.9 2132 1638.9 2132.4 1641.9 2132.7 1644.9 2133.1 1647.8 2133.5 1650.8 2133.8 1653.8 2134.2 1656.8 2134.5 1659.8 2134.9 1662.8 2135.2 1665.7 2135.5 1668.7 2135.8 1671.7 2136.2 1674.7 2136.5 1677.7 2136.8 1680.7 2137.1 1683.7 2137.4 1686.6 2137.7 1689.6 2138 1692.6 2138.3 1695.6 2138.6 1698.6 2138.9 1701.6 2139.2 1704.6 2139.5 1707.6 2139.8 1710.5 2140.1 1713.5 2140.4 1716.5 2140.7 1719.5 2141.1 1722.5 2141.4 1725.5 2141.7 1728.5 2142.1 1731.4 2142.4 1734.4 2142.7 1737.4 2143 1740.4 2143.4 1743.4 2143.7 1746.4 2144 1749.3 2144.4 1752.3 2144.7 1755.3 2145 1758.3 2145.4 1761.3 2145.7 1764.3 2146 1767.3 2146.4 1770.2 2146.7 1773.2 2147 1776.2 2147.4 1779.2 2147.7 1782.2 2148 1785.2 2148.3 1788.1 2148.7 1791.1 2149 1794.1 2149.3 1797.1 2149.6 1800.1 2149.9 1803.1 2150.2 1806.1 2150.5 1809.1 2150.8 1812 2151.1 1815 2151.4 1818 2151.6 1821 2151.9 1824 2152.2 1827 2152.5 1830 2152.7 1833 2153 1836 2153.3 1839 2153.5 1841.9 2153.8 1844.9 2154.1 1847.9 2154.4 1850.9 2154.7 1853.9 2155 1856.9 2155.2 1859.9 2155.5 1862.9 2155.9 1865.9 2156.2 1868.8 2156.5 1871.8 2156.8 1874.8 2157.1 1877.8 2157.4 1880.8 2157.7 1883.8 2158 1886.8 2158.4 1889.7 2158.7 1892.7 2159 1895.7 2159.3 1898.7 2159.6 1901.7 2159.9 1904.7 2160.3 1907.7 2160.6 1910.6 2160.9 1913.6 2161.2 1916.6 2161.5 1919.6 2161.8 1922.6 2162.2 1925.6 2162.5 1928.6 2162.8 1931.5 2163.1 1934.5 2163.5 1937.5 2163.8 1940.5 2164.1 1943.5 2164.5 1946.5 2164.9 1949.4 2165.2 1952.4 2165.6 1955.4 2166 1958.4 2166.3 1961.4 2166.7 1964.3 2167.1 1967.3 2167.5 1970.3 2167.9 1973.3 2168.2 1976.2 2168.6 1979.2 2169 1982.2 2169.4 1985.2 2169.7 1988.2 2170.1 1991.2 2170.4 1994.1 2170.8 1997.1 2171.1 2000.1 2171.4 2003.1 2171.7 2006.1 2172 2009.1 2172.3 2012.1 2172.6 2015 2172.8 2018 2173.1 2021 2173.4 2024 2173.7 2027 2173.9 2030 2174.2 2033 2174.5 2036 2174.8 2039 2175 2042 2175.3 2044.9 2175.6 2047.9 2175.9 2050.9 2176.1 2053.9 2176.4 2056.9 2176.7 2059.9 2177 2062.9 2177.2 2065.9 2177.5 2068.9 2177.8 2071.9 2178.1 2074.9 2178.3 2077.8 2178.6 2080.8 2178.9 2083.8 2179.2 2086.8 2179.4 2089.8 2179.7 2092.8 2180 2095.8 2180.3 2098.8 2180.5 2101.8 2180.8 2104.8 2181.1 2107.7 2181.3 2110.7 2181.6 2113.7 2181.9 2116.7 2182.2 2119.7 2182.4 2122.7 2182.7 2125.7 2183 2128.7 2183.2 2131.7 2183.5 2134.7 2183.7 2137.7 2184 2140.6 2184.2 2143.6 2184.4 2146.6 2184.6 2149.6 2184.9 2152.6 2185.1 2155.6 2185.3 2158.6 2185.5 2161.6 2185.7 2164.6 2185.9 2167.6 2186.1 2170.6 2186.3 2173.6 2186.5 2176.6 2186.7 2179.6 2186.9 2182.6 2187.1 2185.6 2187.3 2188.6 2187.5 2191.6 2187.7 2194.6 2187.9 2197.6 2188.1 2200.6 2188.3 2203.6 2188.5 2206.6 2188.7 2209.5 2189 2212.5 2189.2 2215.5 2189.4 2218.5 2189.6 2221.5 2189.9 2224.5 2190.1 2227.5 2190.4 2230.5 2190.7 2233.5 2191 2236.5 2191.3 2239.5 2191.6 2242.4 2191.9 2245.4 2192.2 2248.4 2192.6 2251.4 2192.9 2254.4 2193.2 2257.4 2193.5 2260.3 2193.9 2263.3 2194.2 2266.3 2194.5 2269.3 2194.8 2272.3 2195.1 2275.3 2195.4 2278.3 2195.7 2281.3 2196 2284.3 2196.2 2287.2 2196.5 2290.2 2196.7 2293.2 2196.9 2296.2 2197.1 2299.2 2197.3 2302.2 2197.6 2305.2 2197.8 2308.2 2198 2311.2 2198.2 2314.2 2198.4 2317.2 2198.6 2320.2 2198.8 2323.2 2199 2326.2 2199.3 2329.2 2199.5 2332.2 2199.7 2335.2 2200 2338.1 2200.2 2341.1 2200.5 2344.1 2200.8 2347.1 2201 2350.1 2201.3 2353.1 2201.6 2356.1 2201.9 2359.1 2202.2 2362.1 2202.5 2365 2202.8 2368 2203.1 2371 2203.4 2374 2203.7 2377 2204" fill="none" stroke="#216b99" stroke-width="6" stroke-linejoin="round" stroke-linecap="round" stroke-dasharray="48 31.5 0.1 29 0.1 31.3" stroke-dashoffset="6"/>
</svg></body></html>
